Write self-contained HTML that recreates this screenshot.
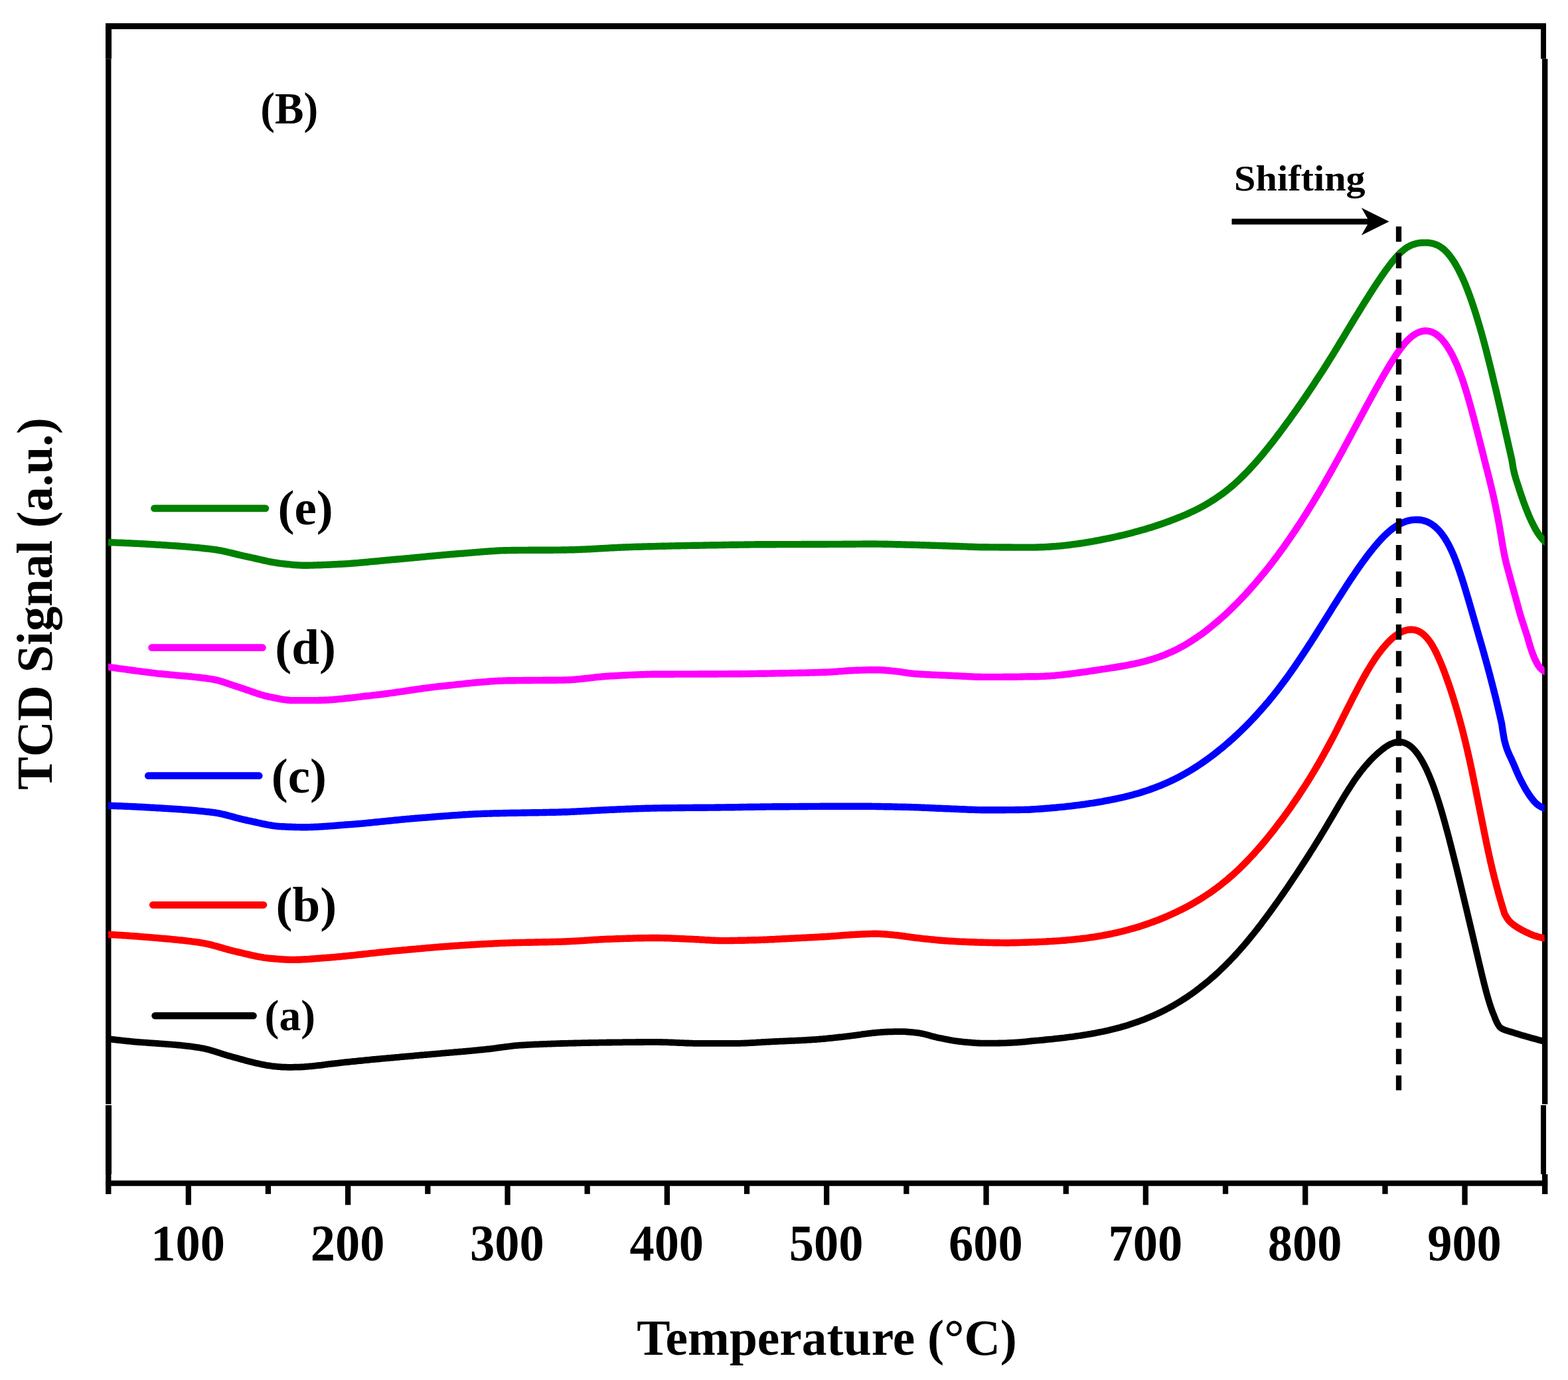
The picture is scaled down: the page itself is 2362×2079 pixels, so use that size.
<!DOCTYPE html>
<html lang="en"><head><meta charset="utf-8"><title>H2-TPR profiles (B)</title>
<style>
html,body{margin:0;padding:0;background:#fff;}
body{width:2362px;height:2079px;overflow:hidden;}
svg{display:block;}
text{font-family:"Liberation Serif","DejaVu Serif",serif;font-weight:bold;fill:#000;}
.c{fill:none;stroke-linejoin:round;stroke-linecap:square;}
.lg{fill:none;stroke-linecap:round;}
</style></head><body>
<svg width="2362" height="2079" viewBox="0 0 2362 2079" role="img" aria-label="TCD signal versus temperature, curves (a) to (e)">
<rect x="0" y="0" width="2362" height="2079" fill="#ffffff"/>
<rect x="159" y="35" width="2170" height="9" fill="#000"/>
<rect x="159.15" y="1778.45" width="2172" height="8.3" fill="#000"/>
<rect x="159" y="35" width="9" height="53.7" fill="#000"/>
<rect x="159.15" y="88.7" width="8.3" height="1575" fill="#000"/>
<rect x="159" y="1665" width="9" height="104" fill="#000"/>
<rect x="159.15" y="1769" width="8.3" height="30" fill="#000"/>
<rect x="2321" y="35" width="8" height="53.7" fill="#000"/>
<rect x="2323" y="88.7" width="8.4" height="1575" fill="#000"/>
<rect x="2321" y="1665" width="8" height="104" fill="#000"/>
<rect x="2323" y="1769" width="8.4" height="30" fill="#000"/>
<rect x="158" y="1663.7" width="11" height="1.3" fill="#fff"/>
<rect x="2320" y="1663.7" width="13" height="1.3" fill="#fff"/>
<rect x="279.7" y="1780" width="8.3" height="35.299999999999955" fill="#000"/>
<rect x="520.0" y="1780" width="8.3" height="35.299999999999955" fill="#000"/>
<rect x="760.4" y="1780" width="8.3" height="35.299999999999955" fill="#000"/>
<rect x="1000.7" y="1780" width="8.3" height="35.299999999999955" fill="#000"/>
<rect x="1241.0" y="1780" width="8.3" height="35.299999999999955" fill="#000"/>
<rect x="1481.4" y="1780" width="8.3" height="35.299999999999955" fill="#000"/>
<rect x="1721.7" y="1780" width="8.3" height="35.299999999999955" fill="#000"/>
<rect x="1962.1" y="1780" width="8.3" height="35.299999999999955" fill="#000"/>
<rect x="2202.4" y="1780" width="8.3" height="35.299999999999955" fill="#000"/>
<rect x="399.8" y="1780" width="8.3" height="18.799999999999955" fill="#000"/>
<rect x="640.2" y="1780" width="8.3" height="18.799999999999955" fill="#000"/>
<rect x="880.5" y="1780" width="8.3" height="18.799999999999955" fill="#000"/>
<rect x="1120.9" y="1780" width="8.3" height="18.799999999999955" fill="#000"/>
<rect x="1361.2" y="1780" width="8.3" height="18.799999999999955" fill="#000"/>
<rect x="1601.6" y="1780" width="8.3" height="18.799999999999955" fill="#000"/>
<rect x="1841.9" y="1780" width="8.3" height="18.799999999999955" fill="#000"/>
<rect x="2082.3" y="1780" width="8.3" height="18.799999999999955" fill="#000"/>
<clipPath id="plotclip"><rect x="163" y="0" width="2163.7" height="2079"/></clipPath>
<g clip-path="url(#plotclip)">
<path class="c" d="M163.0 1565.0L165.0 1565.3L167.0 1565.5L169.0 1565.8L171.0 1566.0L173.0 1566.3L175.0 1566.5L177.0 1566.8L179.0 1567.0L181.0 1567.2L183.0 1567.5L185.0 1567.7L187.0 1567.9L189.0 1568.1L191.0 1568.3L193.0 1568.5L195.0 1568.7L197.0 1568.9L199.0 1569.1L201.0 1569.3L203.0 1569.5L205.0 1569.6L207.0 1569.8L209.0 1570.0L211.0 1570.1L213.0 1570.3L215.0 1570.4L217.0 1570.6L219.0 1570.7L221.0 1570.8L223.0 1571.0L225.0 1571.1L227.0 1571.3L229.0 1571.4L231.0 1571.6L233.0 1571.7L235.0 1571.9L237.0 1572.0L239.0 1572.1L241.0 1572.3L243.0 1572.4L245.0 1572.6L247.0 1572.7L249.0 1572.8L251.0 1573.0L253.0 1573.1L255.0 1573.3L257.0 1573.4L259.0 1573.6L261.0 1573.8L263.0 1573.9L265.0 1574.1L267.0 1574.3L269.0 1574.5L271.0 1574.7L273.0 1574.9L275.0 1575.1L277.0 1575.3L279.0 1575.5L281.0 1575.8L283.0 1576.0L285.0 1576.2L287.0 1576.5L289.0 1576.7L291.0 1577.0L293.0 1577.3L295.0 1577.6L297.0 1577.9L299.0 1578.2L301.0 1578.5L303.0 1578.9L305.0 1579.2L307.0 1579.6L309.0 1580.1L311.0 1580.5L313.0 1581.0L315.0 1581.5L317.0 1582.1L319.0 1582.7L321.0 1583.3L323.0 1583.9L325.0 1584.5L327.0 1585.1L329.0 1585.8L331.0 1586.4L333.0 1587.1L335.0 1587.7L337.0 1588.4L339.0 1589.0L341.0 1589.6L343.0 1590.2L345.0 1590.8L347.0 1591.3L349.0 1591.9L351.0 1592.5L353.0 1593.0L355.0 1593.6L357.0 1594.1L359.0 1594.6L361.0 1595.2L363.0 1595.7L365.0 1596.3L367.0 1596.8L369.0 1597.4L371.0 1597.9L373.0 1598.4L375.0 1598.9L377.0 1599.4L379.0 1599.9L381.0 1600.5L383.0 1600.9L385.0 1601.4L387.0 1601.9L389.0 1602.3L391.0 1602.8L393.0 1603.2L394.9 1603.6L396.9 1604.0L398.9 1604.4L400.9 1604.8L402.9 1605.1L404.9 1605.4L406.9 1605.7L408.9 1606.0L410.9 1606.3L412.9 1606.5L414.9 1606.7L416.9 1606.9L418.9 1607.1L420.9 1607.2L422.9 1607.3L424.9 1607.5L426.9 1607.6L428.9 1607.7L430.9 1607.7L432.9 1607.8L434.9 1607.8L436.9 1607.8L438.9 1607.8L440.9 1607.8L442.9 1607.7L444.9 1607.7L446.9 1607.7L448.9 1607.6L450.9 1607.6L452.9 1607.5L454.9 1607.4L456.9 1607.3L458.9 1607.1L460.9 1606.9L462.9 1606.8L464.9 1606.6L466.9 1606.4L468.9 1606.3L470.9 1606.1L472.9 1605.9L474.9 1605.7L476.9 1605.4L478.9 1605.2L480.9 1605.0L482.9 1604.8L484.9 1604.5L486.9 1604.3L488.9 1604.0L490.9 1603.7L492.9 1603.5L494.9 1603.2L496.9 1603.0L498.9 1602.7L500.9 1602.5L502.9 1602.3L504.9 1602.0L506.9 1601.8L508.9 1601.6L510.9 1601.3L512.9 1601.1L514.9 1600.9L516.9 1600.7L518.9 1600.4L520.9 1600.2L522.9 1600.0L524.9 1599.8L526.9 1599.6L528.9 1599.4L530.9 1599.2L532.9 1599.0L534.9 1598.8L536.9 1598.6L538.9 1598.4L540.9 1598.2L542.9 1598.0L544.9 1597.8L546.9 1597.6L548.9 1597.4L550.9 1597.2L552.9 1597.0L554.9 1596.8L556.9 1596.6L558.9 1596.4L560.9 1596.2L562.9 1596.0L564.9 1595.9L566.9 1595.7L568.9 1595.5L570.9 1595.3L572.9 1595.1L574.9 1594.9L576.9 1594.7L578.9 1594.6L580.9 1594.4L582.9 1594.2L584.9 1594.0L586.9 1593.8L588.9 1593.7L590.9 1593.5L592.9 1593.3L594.9 1593.1L596.9 1592.9L598.9 1592.8L600.9 1592.6L602.9 1592.4L604.9 1592.2L606.9 1592.0L608.9 1591.9L610.9 1591.7L612.9 1591.5L614.9 1591.3L616.9 1591.1L618.9 1591.0L620.9 1590.8L622.9 1590.6L624.9 1590.4L626.9 1590.2L628.9 1590.1L630.9 1589.9L632.9 1589.7L634.9 1589.5L636.9 1589.3L638.9 1589.2L640.9 1589.0L642.9 1588.8L644.9 1588.6L646.9 1588.5L648.9 1588.3L650.9 1588.1L652.9 1587.9L654.9 1587.8L656.9 1587.6L658.9 1587.4L660.9 1587.3L662.9 1587.1L664.9 1586.9L666.9 1586.7L668.9 1586.6L670.9 1586.4L672.9 1586.2L674.9 1586.1L676.9 1585.9L678.9 1585.7L680.9 1585.6L682.9 1585.4L684.9 1585.2L686.9 1585.0L688.9 1584.9L690.9 1584.7L692.9 1584.5L694.9 1584.3L696.9 1584.2L698.9 1584.0L700.9 1583.8L702.9 1583.6L704.9 1583.4L706.9 1583.3L708.9 1583.1L710.9 1582.9L712.9 1582.7L714.9 1582.5L716.9 1582.3L718.9 1582.1L720.9 1581.9L722.9 1581.7L724.9 1581.5L726.9 1581.3L728.9 1581.1L730.9 1580.9L732.9 1580.7L734.9 1580.5L736.9 1580.3L738.9 1580.0L740.9 1579.8L742.9 1579.5L744.9 1579.3L746.9 1579.0L748.9 1578.7L750.9 1578.5L752.9 1578.2L754.9 1577.9L756.9 1577.6L758.9 1577.4L760.9 1577.1L762.9 1576.8L764.9 1576.6L766.9 1576.3L768.9 1576.1L770.9 1575.8L772.9 1575.6L774.9 1575.4L776.9 1575.2L778.9 1575.1L780.9 1574.9L782.9 1574.7L784.9 1574.6L786.9 1574.5L788.9 1574.4L790.9 1574.3L792.9 1574.1L794.9 1574.0L796.9 1573.9L798.9 1573.8L800.9 1573.7L802.9 1573.6L804.9 1573.5L806.9 1573.4L808.9 1573.3L810.9 1573.3L812.9 1573.2L814.9 1573.1L816.9 1573.0L818.9 1572.9L820.9 1572.8L822.9 1572.8L824.9 1572.7L826.9 1572.6L828.9 1572.6L830.9 1572.5L832.9 1572.4L834.9 1572.4L836.9 1572.3L838.9 1572.2L840.9 1572.2L842.9 1572.1L844.9 1572.0L846.9 1572.0L848.9 1571.9L850.9 1571.9L852.9 1571.8L854.9 1571.8L856.9 1571.7L858.8 1571.7L860.8 1571.6L862.8 1571.6L864.8 1571.5L866.8 1571.5L868.8 1571.4L870.8 1571.4L872.8 1571.3L874.8 1571.3L876.8 1571.2L878.8 1571.2L880.8 1571.1L882.8 1571.1L884.8 1571.1L886.8 1571.0L888.8 1571.0L890.8 1570.9L892.8 1570.9L894.8 1570.9L896.8 1570.8L898.8 1570.8L900.8 1570.8L902.8 1570.7L904.8 1570.7L906.8 1570.7L908.8 1570.6L910.8 1570.6L912.8 1570.6L914.8 1570.5L916.8 1570.5L918.8 1570.5L920.8 1570.5L922.8 1570.4L924.8 1570.4L926.8 1570.4L928.8 1570.4L930.8 1570.3L932.8 1570.3L934.8 1570.3L936.8 1570.3L938.8 1570.2L940.8 1570.2L942.8 1570.2L944.8 1570.2L946.8 1570.2L948.8 1570.1L950.8 1570.1L952.8 1570.1L954.8 1570.1L956.8 1570.1L958.8 1570.0L960.8 1570.0L962.8 1570.0L964.8 1570.0L966.8 1570.0L968.8 1570.0L970.8 1569.9L972.8 1569.9L974.8 1569.9L976.8 1569.9L978.8 1569.9L980.8 1569.9L982.8 1569.9L984.8 1569.9L986.8 1569.9L988.8 1569.9L990.8 1569.9L992.8 1569.9L994.8 1570.0L996.8 1570.0L998.8 1570.1L1000.8 1570.1L1002.8 1570.2L1004.8 1570.2L1006.8 1570.3L1008.8 1570.4L1010.8 1570.5L1012.8 1570.5L1014.8 1570.6L1016.8 1570.7L1018.8 1570.8L1020.8 1570.9L1022.8 1571.0L1024.8 1571.1L1026.8 1571.1L1028.8 1571.2L1030.8 1571.3L1032.8 1571.4L1034.8 1571.5L1036.8 1571.5L1038.8 1571.6L1040.8 1571.7L1042.8 1571.7L1044.8 1571.8L1046.8 1571.8L1048.8 1571.8L1050.8 1571.9L1052.8 1571.9L1054.8 1571.9L1056.8 1571.9L1058.8 1571.9L1060.8 1571.9L1062.8 1571.9L1064.8 1571.9L1066.8 1571.9L1068.8 1571.9L1070.8 1571.9L1072.8 1571.9L1074.8 1571.9L1076.8 1571.9L1078.8 1571.9L1080.8 1571.9L1082.8 1571.9L1084.8 1571.9L1086.8 1571.9L1088.8 1571.9L1090.8 1571.9L1092.8 1571.9L1094.8 1571.9L1096.8 1571.9L1098.8 1571.9L1100.8 1571.9L1102.8 1571.9L1104.8 1571.9L1106.8 1571.9L1108.8 1571.9L1110.8 1571.9L1112.8 1571.8L1114.8 1571.8L1116.8 1571.7L1118.8 1571.7L1120.8 1571.6L1122.8 1571.5L1124.8 1571.4L1126.8 1571.3L1128.8 1571.2L1130.8 1571.1L1132.8 1571.0L1134.8 1570.9L1136.8 1570.8L1138.8 1570.6L1140.8 1570.5L1142.8 1570.4L1144.8 1570.3L1146.8 1570.1L1148.8 1570.0L1150.8 1569.9L1152.8 1569.8L1154.8 1569.7L1156.8 1569.6L1158.8 1569.5L1160.8 1569.4L1162.8 1569.3L1164.8 1569.2L1166.8 1569.1L1168.8 1569.0L1170.8 1568.9L1172.8 1568.8L1174.8 1568.7L1176.8 1568.7L1178.8 1568.6L1180.8 1568.5L1182.8 1568.4L1184.8 1568.3L1186.8 1568.2L1188.8 1568.1L1190.8 1568.0L1192.8 1567.9L1194.8 1567.9L1196.8 1567.8L1198.8 1567.7L1200.8 1567.6L1202.8 1567.5L1204.8 1567.4L1206.8 1567.3L1208.8 1567.2L1210.8 1567.1L1212.8 1567.0L1214.8 1566.8L1216.8 1566.7L1218.8 1566.6L1220.8 1566.5L1222.8 1566.4L1224.8 1566.2L1226.8 1566.1L1228.8 1566.0L1230.8 1565.8L1232.8 1565.7L1234.8 1565.5L1236.8 1565.3L1238.8 1565.2L1240.8 1565.0L1242.8 1564.8L1244.8 1564.6L1246.8 1564.4L1248.8 1564.2L1250.8 1564.0L1252.8 1563.8L1254.8 1563.6L1256.8 1563.4L1258.8 1563.2L1260.8 1563.0L1262.8 1562.7L1264.8 1562.5L1266.8 1562.3L1268.8 1562.1L1270.8 1561.8L1272.8 1561.6L1274.8 1561.4L1276.8 1561.2L1278.8 1560.9L1280.8 1560.7L1282.8 1560.4L1284.8 1560.2L1286.8 1559.9L1288.8 1559.6L1290.8 1559.3L1292.8 1559.0L1294.8 1558.8L1296.8 1558.5L1298.8 1558.2L1300.8 1557.9L1302.8 1557.6L1304.8 1557.4L1306.8 1557.1L1308.8 1556.9L1310.8 1556.7L1312.8 1556.5L1314.8 1556.2L1316.8 1556.0L1318.8 1555.8L1320.8 1555.6L1322.7 1555.4L1324.7 1555.3L1326.7 1555.1L1328.7 1554.9L1330.7 1554.8L1332.7 1554.7L1334.7 1554.6L1336.7 1554.5L1338.7 1554.4L1340.7 1554.4L1342.7 1554.3L1344.7 1554.3L1346.7 1554.2L1348.7 1554.2L1350.7 1554.1L1352.7 1554.1L1354.7 1554.1L1356.7 1554.1L1358.7 1554.1L1360.7 1554.2L1362.7 1554.2L1364.7 1554.4L1366.7 1554.5L1368.7 1554.6L1370.7 1554.8L1372.7 1555.0L1374.7 1555.2L1376.7 1555.4L1378.7 1555.6L1380.7 1555.8L1382.7 1556.0L1384.7 1556.3L1386.7 1556.7L1388.7 1557.1L1390.7 1557.5L1392.7 1558.0L1394.7 1558.5L1396.7 1559.0L1398.7 1559.6L1400.7 1560.1L1402.7 1560.7L1404.7 1561.2L1406.7 1561.7L1408.7 1562.3L1410.7 1562.7L1412.7 1563.2L1414.7 1563.6L1416.7 1564.0L1418.7 1564.4L1420.7 1564.8L1422.7 1565.2L1424.7 1565.6L1426.7 1566.0L1428.7 1566.4L1430.7 1566.8L1432.7 1567.1L1434.7 1567.5L1436.7 1567.8L1438.7 1568.2L1440.7 1568.5L1442.7 1568.7L1444.7 1569.0L1446.7 1569.2L1448.7 1569.4L1450.7 1569.6L1452.7 1569.8L1454.7 1570.0L1456.7 1570.2L1458.7 1570.4L1460.7 1570.5L1462.7 1570.7L1464.7 1570.9L1466.7 1571.0L1468.7 1571.1L1470.7 1571.3L1472.7 1571.4L1474.7 1571.5L1476.7 1571.6L1478.7 1571.6L1480.7 1571.7L1482.7 1571.7L1484.7 1571.7L1486.7 1571.7L1488.7 1571.7L1490.7 1571.7L1492.7 1571.7L1494.7 1571.7L1496.7 1571.6L1498.7 1571.6L1500.7 1571.6L1502.7 1571.6L1504.7 1571.5L1506.7 1571.5L1508.7 1571.4L1510.7 1571.4L1512.7 1571.3L1514.7 1571.3L1516.7 1571.2L1518.7 1571.1L1520.7 1571.0L1522.7 1570.9L1524.7 1570.8L1526.7 1570.7L1528.7 1570.6L1530.7 1570.5L1532.7 1570.4L1534.7 1570.2L1536.7 1570.1L1538.7 1569.9L1540.7 1569.7L1542.7 1569.6L1544.7 1569.4L1546.7 1569.2L1548.7 1569.0L1550.7 1568.7L1552.7 1568.5L1555.7 1568.2L1558.7 1567.9L1561.7 1567.6L1564.7 1567.4L1567.7 1567.1L1570.7 1566.8L1573.7 1566.5L1576.7 1566.2L1579.7 1565.9L1582.7 1565.6L1585.7 1565.3L1588.7 1564.9L1591.7 1564.6L1594.7 1564.3L1597.7 1564.0L1600.7 1563.6L1603.6 1563.3L1606.6 1562.9L1609.6 1562.5L1612.6 1562.1L1615.6 1561.8L1618.6 1561.4L1621.6 1560.9L1624.6 1560.5L1627.6 1560.1L1630.6 1559.6L1633.6 1559.1L1636.6 1558.7L1639.6 1558.2L1642.6 1557.7L1645.6 1557.1L1648.6 1556.6L1651.6 1556.0L1654.6 1555.4L1657.6 1554.8L1660.6 1554.2L1663.6 1553.6L1666.6 1552.9L1669.6 1552.2L1672.6 1551.5L1675.6 1550.8L1678.6 1550.1L1681.6 1549.3L1684.6 1548.5L1687.6 1547.7L1690.6 1546.8L1693.6 1546.0L1696.6 1545.1L1699.6 1544.2L1702.5 1543.2L1705.5 1542.2L1708.5 1541.2L1711.5 1540.2L1714.5 1539.1L1717.5 1538.0L1720.5 1536.9L1723.5 1535.8L1726.5 1534.6L1729.5 1533.3L1732.5 1532.1L1735.5 1530.8L1738.5 1529.5L1741.5 1528.1L1744.5 1526.7L1747.5 1525.3L1750.5 1523.8L1753.5 1522.3L1756.5 1520.8L1759.5 1519.2L1762.5 1517.6L1765.5 1515.9L1768.5 1514.2L1771.5 1512.4L1774.5 1510.6L1777.5 1508.8L1780.5 1506.9L1783.5 1505.0L1786.5 1503.1L1789.5 1501.1L1792.5 1499.0L1795.5 1496.9L1798.5 1494.8L1801.5 1492.6L1804.4 1490.3L1807.4 1488.1L1810.4 1485.7L1813.4 1483.3L1816.4 1480.9L1819.4 1478.4L1822.4 1475.9L1825.4 1473.3L1828.4 1470.7L1831.4 1468.0L1834.4 1465.3L1837.4 1462.5L1840.4 1459.6L1843.4 1456.7L1846.4 1453.8L1849.4 1450.7L1852.4 1447.7L1855.4 1444.5L1858.4 1441.4L1861.4 1438.1L1864.4 1434.8L1867.4 1431.5L1870.4 1428.1L1873.4 1424.6L1876.4 1421.1L1879.4 1417.5L1882.4 1413.9L1885.4 1410.2L1888.4 1406.5L1891.4 1402.7L1894.4 1398.9L1897.4 1395.1L1900.4 1391.2L1903.3 1387.2L1906.3 1383.2L1909.3 1379.2L1912.3 1375.1L1915.3 1371.0L1918.3 1366.9L1921.3 1362.7L1924.3 1358.5L1927.3 1354.2L1930.3 1349.9L1933.3 1345.6L1936.3 1341.3L1939.3 1336.9L1942.3 1332.5L1945.3 1328.0L1948.3 1323.6L1951.3 1319.1L1954.3 1314.6L1957.3 1310.0L1960.3 1305.4L1963.3 1300.8L1966.3 1296.2L1969.3 1291.5L1972.3 1286.8L1975.3 1282.0L1978.3 1277.3L1981.3 1272.5L1984.3 1267.6L1987.3 1262.8L1990.3 1257.9L1993.3 1253.0L1996.3 1248.0L1999.3 1243.0L2002.2 1238.0L2005.2 1233.0L2008.2 1227.9L2011.2 1222.8L2014.2 1217.7L2017.2 1212.6L2020.2 1207.6L2023.2 1202.6L2026.2 1197.6L2029.2 1192.7L2032.2 1188.0L2035.2 1183.3L2038.2 1178.7L2041.2 1174.3L2044.2 1170.1L2047.2 1166.0L2050.2 1162.0L2053.2 1158.3L2056.2 1154.7L2059.2 1151.2L2062.2 1147.9L2065.2 1144.7L2068.2 1141.6L2071.2 1138.7L2074.2 1135.9L2077.2 1133.2L2080.2 1130.7L2083.2 1128.3L2086.2 1126.0L2089.2 1124.0L2092.2 1122.2L2095.2 1120.7L2098.2 1119.5L2101.2 1118.5L2104.1 1117.9L2107.1 1117.7L2110.1 1117.8L2113.1 1118.3L2116.1 1119.2L2119.1 1120.6L2122.1 1122.3L2125.1 1124.5L2128.1 1127.2L2131.1 1130.4L2134.1 1134.0L2137.1 1138.1L2140.1 1142.8L2143.1 1147.9L2146.1 1153.6L2149.1 1159.7L2152.1 1166.4L2155.1 1173.6L2158.1 1181.3L2161.1 1189.5L2164.1 1198.3L2167.1 1207.5L2170.1 1217.3L2173.1 1227.5L2176.1 1238.1L2179.1 1249.1L2182.1 1260.3L2185.1 1271.9L2188.1 1283.7L2191.1 1295.7L2194.1 1307.8L2197.1 1320.0L2200.1 1332.3L2203.0 1344.7L2206.0 1357.2L2209.0 1369.7L2212.0 1382.3L2215.0 1395.0L2218.0 1407.7L2221.0 1420.4L2224.0 1433.2L2227.0 1446.0L2230.0 1458.7L2233.0 1471.2L2236.0 1483.2L2239.0 1494.7L2242.0 1505.3L2245.0 1515.1L2248.0 1523.7L2251.0 1531.0L2253.0 1536.2L2255.0 1540.6L2257.0 1544.1L2259.0 1547.1L2261.0 1548.9L2263.0 1550.0L2264.9 1550.9L2266.9 1551.7L2268.9 1552.4L2270.9 1553.0L2272.9 1553.6L2274.9 1554.2L2276.9 1554.8L2278.9 1555.4L2280.9 1556.0L2282.9 1556.7L2284.9 1557.3L2286.9 1557.9L2288.8 1558.5L2290.8 1559.1L2292.8 1559.7L2294.8 1560.2L2296.8 1560.8L2298.8 1561.4L2300.8 1562.0L2302.8 1562.5L2304.8 1563.1L2306.8 1563.7L2308.8 1564.2L2310.8 1564.8L2312.8 1565.3L2314.7 1565.8L2316.7 1566.4L2318.7 1566.9L2320.7 1567.4L2322.7 1568.0L2324.7 1568.5L2326.7 1569.0" stroke="#000000" stroke-width="9.8"/>
<path class="c" d="M163.0 1407.9L165.0 1408.0L167.0 1408.1L169.0 1408.2L171.0 1408.3L173.0 1408.4L175.0 1408.5L177.0 1408.7L179.0 1408.8L181.0 1408.9L183.0 1409.0L185.0 1409.2L187.0 1409.3L189.0 1409.4L191.0 1409.5L193.0 1409.7L195.0 1409.8L197.0 1410.0L199.0 1410.1L201.0 1410.2L203.0 1410.4L205.0 1410.5L207.0 1410.7L209.0 1410.8L211.0 1411.0L213.0 1411.1L215.0 1411.3L217.0 1411.5L219.0 1411.6L221.0 1411.8L223.0 1411.9L225.0 1412.1L227.0 1412.3L229.0 1412.4L231.0 1412.6L233.0 1412.8L235.0 1412.9L237.0 1413.1L239.0 1413.3L241.0 1413.5L243.0 1413.6L245.0 1413.8L247.0 1414.0L249.0 1414.2L251.0 1414.3L253.0 1414.5L255.0 1414.7L257.0 1414.9L259.0 1415.1L261.0 1415.3L263.0 1415.5L265.0 1415.7L267.0 1415.9L269.0 1416.1L271.0 1416.3L273.0 1416.5L275.0 1416.7L277.0 1416.9L279.0 1417.1L281.0 1417.4L283.0 1417.6L285.0 1417.8L287.0 1418.1L289.0 1418.4L291.0 1418.6L293.0 1418.9L295.0 1419.2L297.0 1419.4L298.9 1419.7L300.9 1420.0L302.9 1420.3L304.9 1420.6L306.9 1421.0L308.9 1421.4L310.9 1421.8L312.9 1422.2L314.9 1422.7L316.9 1423.1L318.9 1423.6L320.9 1424.2L322.9 1424.7L324.9 1425.2L326.9 1425.8L328.9 1426.4L330.9 1426.9L332.9 1427.5L334.9 1428.1L336.9 1428.7L338.9 1429.3L340.9 1429.8L342.9 1430.4L344.9 1430.9L346.9 1431.5L348.9 1432.0L350.9 1432.5L352.9 1433.0L354.9 1433.5L356.9 1433.9L358.9 1434.4L360.9 1434.8L362.9 1435.3L364.9 1435.8L366.9 1436.3L368.9 1436.7L370.9 1437.2L372.9 1437.7L374.9 1438.1L376.9 1438.6L378.9 1439.1L380.9 1439.5L382.9 1439.9L384.9 1440.4L386.9 1440.8L388.9 1441.2L390.9 1441.5L392.9 1441.9L394.9 1442.2L396.9 1442.6L398.9 1442.9L400.9 1443.1L402.9 1443.4L404.9 1443.6L406.9 1443.8L408.9 1444.0L410.9 1444.2L412.9 1444.3L414.9 1444.5L416.9 1444.7L418.9 1444.9L420.9 1445.0L422.9 1445.2L424.9 1445.3L426.9 1445.4L428.9 1445.5L430.9 1445.6L432.9 1445.7L434.9 1445.8L436.9 1445.9L438.9 1445.9L440.9 1445.9L442.9 1445.9L444.9 1445.9L446.9 1445.8L448.9 1445.8L450.9 1445.7L452.9 1445.6L454.9 1445.5L456.9 1445.4L458.9 1445.3L460.9 1445.2L462.9 1445.1L464.9 1445.0L466.9 1444.8L468.9 1444.7L470.9 1444.5L472.9 1444.4L474.9 1444.2L476.9 1444.0L478.9 1443.9L480.9 1443.7L482.9 1443.6L484.9 1443.4L486.9 1443.2L488.9 1443.1L490.9 1442.9L492.9 1442.8L494.9 1442.6L496.9 1442.5L498.9 1442.3L500.9 1442.1L502.9 1442.0L504.9 1441.8L506.9 1441.6L508.9 1441.4L510.9 1441.3L512.9 1441.1L514.9 1440.9L516.9 1440.7L518.9 1440.5L520.9 1440.3L522.9 1440.1L524.9 1439.9L526.9 1439.7L528.9 1439.5L530.9 1439.3L532.9 1439.1L534.9 1438.8L536.9 1438.6L538.9 1438.4L540.9 1438.2L542.9 1438.0L544.9 1437.8L546.9 1437.5L548.9 1437.3L550.9 1437.1L552.9 1436.9L554.9 1436.7L556.9 1436.4L558.9 1436.2L560.9 1436.0L562.9 1435.8L564.9 1435.6L566.9 1435.4L568.9 1435.1L570.8 1434.9L572.8 1434.7L574.8 1434.5L576.8 1434.3L578.8 1434.1L580.8 1433.9L582.8 1433.7L584.8 1433.5L586.8 1433.3L588.8 1433.1L590.8 1432.9L592.8 1432.7L594.8 1432.5L596.8 1432.4L598.8 1432.2L600.8 1432.0L602.8 1431.8L604.8 1431.6L606.8 1431.4L608.8 1431.3L610.8 1431.1L612.8 1430.9L614.8 1430.7L616.8 1430.5L618.8 1430.3L620.8 1430.2L622.8 1430.0L624.8 1429.8L626.8 1429.6L628.8 1429.4L630.8 1429.3L632.8 1429.1L634.8 1428.9L636.8 1428.7L638.8 1428.6L640.8 1428.4L642.8 1428.2L644.8 1428.0L646.8 1427.9L648.8 1427.7L650.8 1427.5L652.8 1427.4L654.8 1427.2L656.8 1427.0L658.8 1426.9L660.8 1426.7L662.8 1426.5L664.8 1426.4L666.8 1426.2L668.8 1426.1L670.8 1425.9L672.8 1425.8L674.8 1425.6L676.8 1425.5L678.8 1425.3L680.8 1425.2L682.8 1425.0L684.8 1424.9L686.8 1424.7L688.8 1424.6L690.8 1424.5L692.8 1424.3L694.8 1424.2L696.8 1424.1L698.8 1424.0L700.8 1423.8L702.8 1423.7L704.8 1423.6L706.8 1423.5L708.8 1423.3L710.8 1423.2L712.8 1423.1L714.8 1423.0L716.8 1422.9L718.8 1422.7L720.8 1422.6L722.8 1422.5L724.8 1422.4L726.8 1422.3L728.8 1422.2L730.8 1422.1L732.8 1422.0L734.8 1421.9L736.8 1421.8L738.8 1421.7L740.8 1421.6L742.8 1421.5L744.8 1421.4L746.8 1421.3L748.8 1421.2L750.8 1421.1L752.8 1421.0L754.8 1420.9L756.8 1420.9L758.8 1420.8L760.8 1420.7L762.8 1420.6L764.8 1420.6L766.8 1420.5L768.8 1420.4L770.8 1420.4L772.8 1420.3L774.8 1420.2L776.8 1420.2L778.8 1420.1L780.8 1420.1L782.8 1420.0L784.8 1420.0L786.8 1419.9L788.8 1419.9L790.8 1419.9L792.8 1419.8L794.8 1419.8L796.8 1419.7L798.8 1419.7L800.8 1419.7L802.8 1419.6L804.8 1419.6L806.8 1419.5L808.8 1419.5L810.8 1419.5L812.8 1419.4L814.8 1419.4L816.8 1419.3L818.8 1419.3L820.8 1419.3L822.8 1419.2L824.8 1419.2L826.8 1419.1L828.8 1419.1L830.8 1419.0L832.8 1419.0L834.8 1418.9L836.8 1418.9L838.8 1418.8L840.8 1418.8L842.7 1418.7L844.7 1418.7L846.7 1418.6L848.7 1418.5L850.7 1418.5L852.7 1418.4L854.7 1418.3L856.7 1418.2L858.7 1418.1L860.7 1418.0L862.7 1417.9L864.7 1417.8L866.7 1417.7L868.7 1417.6L870.7 1417.5L872.7 1417.4L874.7 1417.2L876.7 1417.1L878.7 1417.0L880.7 1416.8L882.7 1416.7L884.7 1416.6L886.7 1416.4L888.7 1416.3L890.7 1416.2L892.7 1416.0L894.7 1415.9L896.7 1415.8L898.7 1415.7L900.7 1415.6L902.7 1415.4L904.7 1415.3L906.7 1415.2L908.7 1415.1L910.7 1415.0L912.7 1414.9L914.7 1414.8L916.7 1414.8L918.7 1414.7L920.7 1414.6L922.7 1414.6L924.7 1414.5L926.7 1414.4L928.7 1414.3L930.7 1414.3L932.7 1414.2L934.7 1414.1L936.7 1414.1L938.7 1414.0L940.7 1413.9L942.7 1413.9L944.7 1413.8L946.7 1413.7L948.7 1413.7L950.7 1413.6L952.7 1413.6L954.7 1413.5L956.7 1413.4L958.7 1413.4L960.7 1413.3L962.7 1413.3L964.7 1413.3L966.7 1413.2L968.7 1413.2L970.7 1413.1L972.7 1413.1L974.7 1413.1L976.7 1413.1L978.7 1413.0L980.7 1413.0L982.7 1413.0L984.7 1413.0L986.7 1413.0L988.7 1413.0L990.7 1413.0L992.7 1413.0L994.7 1413.1L996.7 1413.1L998.7 1413.1L1000.7 1413.2L1002.7 1413.2L1004.7 1413.3L1006.7 1413.4L1008.7 1413.4L1010.7 1413.5L1012.7 1413.6L1014.7 1413.7L1016.7 1413.8L1018.7 1413.9L1020.7 1413.9L1022.7 1414.0L1024.7 1414.1L1026.7 1414.2L1028.7 1414.3L1030.7 1414.4L1032.7 1414.5L1034.7 1414.6L1036.7 1414.6L1038.7 1414.7L1040.7 1414.8L1042.7 1414.9L1044.7 1415.0L1046.7 1415.1L1048.7 1415.2L1050.7 1415.3L1052.7 1415.4L1054.7 1415.6L1056.7 1415.7L1058.7 1415.8L1060.7 1415.9L1062.7 1416.1L1064.7 1416.2L1066.7 1416.3L1068.7 1416.4L1070.7 1416.5L1072.7 1416.6L1074.7 1416.7L1076.7 1416.8L1078.7 1416.9L1080.7 1417.0L1082.7 1417.0L1084.7 1417.1L1086.7 1417.1L1088.7 1417.1L1090.7 1417.1L1092.7 1417.1L1094.7 1417.1L1096.7 1417.1L1098.7 1417.1L1100.7 1417.0L1102.7 1417.0L1104.7 1417.0L1106.7 1416.9L1108.7 1416.9L1110.7 1416.9L1112.6 1416.8L1114.6 1416.8L1116.6 1416.7L1118.6 1416.7L1120.6 1416.7L1122.6 1416.6L1124.6 1416.6L1126.6 1416.5L1128.6 1416.4L1130.6 1416.4L1132.6 1416.3L1134.6 1416.3L1136.6 1416.2L1138.6 1416.2L1140.6 1416.1L1142.6 1416.1L1144.6 1416.0L1146.6 1415.9L1148.6 1415.9L1150.6 1415.8L1152.6 1415.7L1154.6 1415.6L1156.6 1415.5L1158.6 1415.4L1160.6 1415.3L1162.6 1415.2L1164.6 1415.2L1166.6 1415.1L1168.6 1414.9L1170.6 1414.8L1172.6 1414.7L1174.6 1414.6L1176.6 1414.5L1178.6 1414.4L1180.6 1414.3L1182.6 1414.2L1184.6 1414.1L1186.6 1414.0L1188.6 1413.9L1190.6 1413.8L1192.6 1413.7L1194.6 1413.6L1196.6 1413.5L1198.6 1413.4L1200.6 1413.3L1202.6 1413.2L1204.6 1413.1L1206.6 1413.0L1208.6 1412.9L1210.6 1412.8L1212.6 1412.7L1214.6 1412.6L1216.6 1412.5L1218.6 1412.4L1220.6 1412.3L1222.6 1412.2L1224.6 1412.1L1226.6 1412.0L1228.6 1411.9L1230.6 1411.8L1232.6 1411.6L1234.6 1411.5L1236.6 1411.4L1238.6 1411.3L1240.6 1411.2L1242.6 1411.1L1244.6 1411.0L1246.6 1410.8L1248.6 1410.7L1250.6 1410.6L1252.6 1410.4L1254.6 1410.3L1256.6 1410.1L1258.6 1410.0L1260.6 1409.8L1262.6 1409.6L1264.6 1409.5L1266.6 1409.3L1268.6 1409.2L1270.6 1409.0L1272.6 1408.9L1274.6 1408.7L1276.6 1408.6L1278.6 1408.5L1280.6 1408.3L1282.6 1408.2L1284.6 1408.1L1286.6 1408.0L1288.6 1407.9L1290.6 1407.8L1292.6 1407.7L1294.6 1407.6L1296.6 1407.5L1298.6 1407.4L1300.6 1407.3L1302.6 1407.2L1304.6 1407.1L1306.6 1407.1L1308.6 1407.0L1310.6 1406.9L1312.6 1406.9L1314.6 1406.8L1316.6 1406.8L1318.6 1406.8L1320.6 1406.8L1322.6 1406.8L1324.6 1406.9L1326.6 1407.0L1328.6 1407.1L1330.6 1407.2L1332.6 1407.4L1334.6 1407.5L1336.6 1407.7L1338.6 1407.9L1340.6 1408.1L1342.6 1408.2L1344.6 1408.4L1346.6 1408.6L1348.6 1408.8L1350.6 1409.0L1352.6 1409.2L1354.6 1409.5L1356.6 1409.7L1358.6 1410.0L1360.6 1410.3L1362.6 1410.5L1364.6 1410.8L1366.6 1411.1L1368.6 1411.4L1370.6 1411.7L1372.6 1412.0L1374.6 1412.2L1376.6 1412.5L1378.6 1412.7L1380.6 1413.0L1382.6 1413.2L1384.5 1413.4L1386.5 1413.6L1388.5 1413.8L1390.5 1414.1L1392.5 1414.3L1394.5 1414.5L1396.5 1414.7L1398.5 1414.9L1400.5 1415.1L1402.5 1415.3L1404.5 1415.5L1406.5 1415.7L1408.5 1415.9L1410.5 1416.1L1412.5 1416.3L1414.5 1416.5L1416.5 1416.7L1418.5 1416.8L1420.5 1417.0L1422.5 1417.2L1424.5 1417.3L1426.5 1417.4L1428.5 1417.6L1430.5 1417.7L1432.5 1417.8L1434.5 1417.9L1436.5 1418.0L1438.5 1418.1L1440.5 1418.3L1442.5 1418.4L1444.5 1418.5L1446.5 1418.6L1448.5 1418.6L1450.5 1418.7L1452.5 1418.8L1454.5 1418.9L1456.5 1419.0L1458.5 1419.1L1460.5 1419.2L1462.5 1419.2L1464.5 1419.3L1466.5 1419.4L1468.5 1419.5L1470.5 1419.5L1472.5 1419.6L1474.5 1419.7L1476.5 1419.7L1478.5 1419.8L1480.5 1419.8L1482.5 1419.9L1484.5 1419.9L1486.5 1420.0L1488.5 1420.0L1490.5 1420.1L1492.5 1420.1L1494.5 1420.1L1496.5 1420.2L1498.5 1420.2L1500.5 1420.3L1502.5 1420.3L1504.5 1420.3L1506.5 1420.4L1508.5 1420.4L1510.5 1420.4L1512.5 1420.4L1514.5 1420.5L1516.5 1420.5L1518.5 1420.5L1521.5 1420.4L1524.5 1420.3L1527.5 1420.3L1530.5 1420.2L1533.5 1420.1L1536.5 1420.0L1539.5 1419.9L1542.5 1419.8L1545.5 1419.7L1548.5 1419.6L1551.5 1419.5L1554.5 1419.4L1557.6 1419.3L1560.6 1419.2L1563.6 1419.0L1566.6 1418.9L1569.6 1418.8L1572.6 1418.6L1575.6 1418.5L1578.6 1418.3L1581.6 1418.1L1584.6 1418.0L1587.6 1417.8L1590.6 1417.6L1593.6 1417.4L1596.6 1417.2L1599.6 1416.9L1602.6 1416.7L1605.6 1416.5L1608.6 1416.2L1611.6 1415.9L1614.6 1415.6L1617.6 1415.3L1620.6 1415.0L1623.6 1414.7L1626.6 1414.4L1629.6 1414.0L1632.7 1413.6L1635.7 1413.3L1638.7 1412.9L1641.7 1412.4L1644.7 1412.0L1647.7 1411.6L1650.7 1411.1L1653.7 1410.6L1656.7 1410.1L1659.7 1409.6L1662.7 1409.0L1665.7 1408.5L1668.7 1407.9L1671.7 1407.3L1674.7 1406.7L1677.7 1406.0L1680.7 1405.4L1683.7 1404.7L1686.7 1404.0L1689.7 1403.3L1692.7 1402.5L1695.7 1401.7L1698.7 1401.0L1701.7 1400.1L1704.7 1399.3L1707.8 1398.4L1710.8 1397.6L1713.8 1396.7L1716.8 1395.7L1719.8 1394.8L1722.8 1393.8L1725.8 1392.8L1728.8 1391.8L1731.8 1390.7L1734.8 1389.6L1737.8 1388.5L1740.8 1387.4L1743.8 1386.3L1746.8 1385.1L1749.8 1383.9L1752.8 1382.6L1755.8 1381.4L1758.8 1380.1L1761.8 1378.8L1764.8 1377.4L1767.8 1376.0L1770.8 1374.6L1773.8 1373.2L1776.8 1371.7L1779.8 1370.3L1782.9 1368.7L1785.9 1367.2L1788.9 1365.6L1791.9 1363.9L1794.9 1362.3L1797.9 1360.6L1800.9 1358.8L1803.9 1357.1L1806.9 1355.2L1809.9 1353.4L1812.9 1351.5L1815.9 1349.5L1818.9 1347.5L1821.9 1345.5L1824.9 1343.4L1827.9 1341.3L1830.9 1339.1L1833.9 1336.9L1836.9 1334.6L1839.9 1332.2L1842.9 1329.8L1845.9 1327.4L1848.9 1324.9L1851.9 1322.3L1854.9 1319.7L1858.0 1317.1L1861.0 1314.3L1864.0 1311.5L1867.0 1308.7L1870.0 1305.8L1873.0 1302.8L1876.0 1299.8L1879.0 1296.7L1882.0 1293.5L1885.0 1290.3L1888.0 1287.1L1891.0 1283.8L1894.0 1280.4L1897.0 1277.0L1900.0 1273.5L1903.0 1270.0L1906.0 1266.4L1909.0 1262.7L1912.0 1259.0L1915.0 1255.3L1918.0 1251.5L1921.0 1247.6L1924.0 1243.7L1927.0 1239.7L1930.1 1235.7L1933.1 1231.7L1936.1 1227.5L1939.1 1223.4L1942.1 1219.2L1945.1 1214.9L1948.1 1210.6L1951.1 1206.2L1954.1 1201.8L1957.1 1197.3L1960.1 1192.7L1963.1 1188.1L1966.1 1183.5L1969.1 1178.7L1972.1 1173.9L1975.1 1169.1L1978.1 1164.1L1981.1 1159.1L1984.1 1154.0L1987.1 1148.8L1990.1 1143.6L1993.1 1138.3L1996.1 1132.8L1999.1 1127.4L2002.1 1121.8L2005.2 1116.1L2008.2 1110.4L2011.2 1104.5L2014.2 1098.7L2017.2 1092.7L2020.2 1086.7L2023.2 1080.7L2026.2 1074.7L2029.2 1068.7L2032.2 1062.8L2035.2 1056.8L2038.2 1050.9L2041.2 1045.1L2044.2 1039.3L2047.2 1033.6L2050.2 1028.0L2053.2 1022.5L2056.2 1017.1L2059.2 1011.9L2062.2 1006.8L2065.2 1001.9L2068.2 997.2L2071.2 992.6L2074.2 988.3L2077.2 984.1L2080.3 980.1L2083.3 976.3L2086.3 972.8L2089.3 969.4L2092.3 966.3L2095.3 963.4L2098.3 960.7L2101.3 958.3L2104.3 956.1L2107.3 954.2L2110.3 952.5L2113.3 951.1L2116.3 950.0L2119.3 949.2L2122.3 948.7L2125.3 948.5L2128.3 948.6L2131.3 949.0L2134.3 949.9L2137.3 951.1L2140.3 952.8L2143.3 955.0L2146.3 957.6L2149.3 960.8L2152.3 964.5L2155.4 968.8L2158.4 973.7L2161.4 979.2L2164.4 985.2L2167.4 991.7L2170.4 998.7L2173.4 1006.1L2176.4 1014.0L2179.4 1022.2L2182.4 1030.8L2185.4 1039.7L2188.4 1049.0L2191.4 1058.7L2194.4 1068.7L2197.4 1079.2L2200.4 1090.1L2203.4 1101.5L2206.4 1113.4L2209.4 1125.9L2212.4 1139.0L2215.4 1152.7L2218.4 1167.0L2221.4 1181.7L2224.4 1196.6L2227.4 1211.8L2230.5 1227.0L2233.5 1242.1L2236.5 1257.0L2239.5 1271.5L2242.5 1285.5L2245.5 1299.0L2248.5 1311.7L2251.5 1323.8L2254.5 1335.3L2257.5 1346.4L2260.5 1356.9L2263.5 1367.0L2266.5 1376.7L2268.5 1380.3L2270.5 1383.6L2272.5 1386.3L2274.5 1388.5L2276.5 1390.4L2278.5 1392.1L2280.5 1393.6L2282.6 1395.0L2284.6 1396.3L2286.6 1397.6L2288.6 1398.9L2290.6 1400.0L2292.6 1401.1L2294.6 1402.2L2296.6 1403.2L2298.6 1404.2L2300.6 1405.1L2302.6 1406.0L2304.6 1406.9L2306.6 1407.8L2308.6 1408.6L2310.6 1409.3L2312.7 1410.0L2314.7 1410.6L2316.7 1411.2L2318.7 1411.7L2320.7 1412.2L2322.7 1412.7L2324.7 1413.1L2326.7 1413.4" stroke="#ff0000" stroke-width="10.4"/>
<path class="c" d="M163.0 1213.7L165.0 1213.8L167.0 1213.8L169.0 1213.9L171.0 1214.0L173.0 1214.0L175.0 1214.1L177.0 1214.2L179.0 1214.3L181.0 1214.3L183.0 1214.4L185.0 1214.5L187.0 1214.6L189.0 1214.7L191.0 1214.8L193.0 1214.9L195.0 1214.9L197.0 1215.0L199.0 1215.1L201.0 1215.2L203.0 1215.3L205.0 1215.4L207.0 1215.5L209.0 1215.6L211.0 1215.7L213.0 1215.8L215.0 1215.9L217.0 1216.0L219.0 1216.2L221.0 1216.3L223.0 1216.4L225.0 1216.5L227.0 1216.6L229.0 1216.7L231.0 1216.8L232.9 1216.9L234.9 1217.1L236.9 1217.2L238.9 1217.3L240.9 1217.4L242.9 1217.5L244.9 1217.7L246.9 1217.8L248.9 1217.9L250.9 1218.0L252.9 1218.1L254.9 1218.3L256.9 1218.4L258.9 1218.5L260.9 1218.6L262.9 1218.8L264.9 1218.9L266.9 1219.0L268.9 1219.2L270.9 1219.3L272.9 1219.4L274.9 1219.6L276.9 1219.7L278.9 1219.9L280.9 1220.0L282.9 1220.2L284.9 1220.3L286.9 1220.5L288.9 1220.7L290.9 1220.8L292.9 1221.0L294.9 1221.2L296.9 1221.4L298.9 1221.6L300.9 1221.8L302.9 1222.0L304.9 1222.2L306.9 1222.4L308.9 1222.6L310.9 1222.8L312.9 1223.0L314.9 1223.2L316.9 1223.5L318.9 1223.7L320.9 1224.0L322.9 1224.2L324.9 1224.5L326.9 1224.9L328.9 1225.2L330.9 1225.6L332.9 1226.0L334.9 1226.5L336.9 1226.9L338.9 1227.4L340.9 1227.9L342.9 1228.4L344.9 1229.0L346.9 1229.5L348.9 1230.0L350.9 1230.6L352.9 1231.1L354.9 1231.7L356.9 1232.2L358.9 1232.7L360.9 1233.2L362.9 1233.8L364.9 1234.3L366.9 1234.7L368.9 1235.2L370.9 1235.6L372.8 1236.1L374.8 1236.5L376.8 1236.9L378.8 1237.3L380.8 1237.8L382.8 1238.2L384.8 1238.6L386.8 1239.1L388.8 1239.5L390.8 1240.0L392.8 1240.4L394.8 1240.9L396.8 1241.3L398.8 1241.7L400.8 1242.1L402.8 1242.5L404.8 1242.9L406.8 1243.2L408.8 1243.5L410.8 1243.9L412.8 1244.1L414.8 1244.4L416.8 1244.6L418.8 1244.8L420.8 1245.0L422.8 1245.1L424.8 1245.2L426.8 1245.3L428.8 1245.4L430.8 1245.5L432.8 1245.6L434.8 1245.7L436.8 1245.8L438.8 1245.8L440.8 1245.9L442.8 1246.0L444.8 1246.0L446.8 1246.1L448.8 1246.1L450.8 1246.1L452.8 1246.2L454.8 1246.2L456.8 1246.2L458.8 1246.2L460.8 1246.2L462.8 1246.2L464.8 1246.1L466.8 1246.1L468.8 1246.0L470.8 1246.0L472.8 1245.9L474.8 1245.8L476.8 1245.7L478.8 1245.6L480.8 1245.5L482.8 1245.4L484.8 1245.3L486.8 1245.2L488.8 1245.0L490.8 1244.9L492.8 1244.7L494.8 1244.6L496.8 1244.4L498.8 1244.3L500.8 1244.1L502.8 1244.0L504.8 1243.8L506.8 1243.7L508.8 1243.5L510.7 1243.3L512.7 1243.2L514.7 1243.0L516.7 1242.9L518.7 1242.7L520.7 1242.5L522.7 1242.4L524.7 1242.2L526.7 1242.1L528.7 1242.0L530.7 1241.8L532.7 1241.6L534.7 1241.5L536.7 1241.3L538.7 1241.2L540.7 1241.0L542.7 1240.8L544.7 1240.6L546.7 1240.5L548.7 1240.3L550.7 1240.1L552.7 1239.9L554.7 1239.7L556.7 1239.5L558.7 1239.3L560.7 1239.1L562.7 1238.9L564.7 1238.7L566.7 1238.5L568.7 1238.3L570.7 1238.1L572.7 1237.9L574.7 1237.7L576.7 1237.5L578.7 1237.3L580.7 1237.1L582.7 1236.9L584.7 1236.7L586.7 1236.5L588.7 1236.3L590.7 1236.1L592.7 1235.9L594.7 1235.7L596.7 1235.5L598.7 1235.3L600.7 1235.1L602.7 1234.9L604.7 1234.7L606.7 1234.5L608.7 1234.3L610.7 1234.1L612.7 1233.9L614.7 1233.8L616.7 1233.6L618.7 1233.4L620.7 1233.2L622.7 1233.1L624.7 1232.9L626.7 1232.7L628.7 1232.6L630.7 1232.4L632.7 1232.3L634.7 1232.1L636.7 1231.9L638.7 1231.8L640.7 1231.6L642.7 1231.5L644.7 1231.3L646.7 1231.1L648.6 1231.0L650.6 1230.8L652.6 1230.7L654.6 1230.5L656.6 1230.4L658.6 1230.2L660.6 1230.0L662.6 1229.9L664.6 1229.7L666.6 1229.6L668.6 1229.4L670.6 1229.3L672.6 1229.1L674.6 1229.0L676.6 1228.8L678.6 1228.7L680.6 1228.5L682.6 1228.4L684.6 1228.2L686.6 1228.1L688.6 1228.0L690.6 1227.8L692.6 1227.7L694.6 1227.6L696.6 1227.4L698.6 1227.3L700.6 1227.2L702.6 1227.1L704.6 1227.0L706.6 1226.8L708.6 1226.7L710.6 1226.6L712.6 1226.5L714.6 1226.4L716.6 1226.3L718.6 1226.2L720.6 1226.1L722.6 1226.1L724.6 1226.0L726.6 1225.9L728.6 1225.8L730.6 1225.8L732.6 1225.7L734.6 1225.6L736.6 1225.6L738.6 1225.5L740.6 1225.5L742.6 1225.4L744.6 1225.3L746.6 1225.3L748.6 1225.2L750.6 1225.2L752.6 1225.2L754.6 1225.1L756.6 1225.1L758.6 1225.0L760.6 1225.0L762.6 1225.0L764.6 1224.9L766.6 1224.9L768.6 1224.8L770.6 1224.8L772.6 1224.8L774.6 1224.7L776.6 1224.7L778.6 1224.7L780.6 1224.6L782.6 1224.6L784.6 1224.6L786.6 1224.5L788.5 1224.5L790.5 1224.5L792.5 1224.5L794.5 1224.4L796.5 1224.4L798.5 1224.4L800.5 1224.3L802.5 1224.3L804.5 1224.3L806.5 1224.2L808.5 1224.2L810.5 1224.2L812.5 1224.1L814.5 1224.1L816.5 1224.1L818.5 1224.0L820.5 1224.0L822.5 1224.0L824.5 1223.9L826.5 1223.9L828.5 1223.8L830.5 1223.8L832.5 1223.8L834.5 1223.7L836.5 1223.7L838.5 1223.6L840.5 1223.6L842.5 1223.5L844.5 1223.5L846.5 1223.4L848.5 1223.3L850.5 1223.3L852.5 1223.2L854.5 1223.2L856.5 1223.1L858.5 1223.0L860.5 1222.9L862.5 1222.8L864.5 1222.7L866.5 1222.6L868.5 1222.5L870.5 1222.4L872.5 1222.3L874.5 1222.2L876.5 1222.1L878.5 1222.0L880.5 1221.9L882.5 1221.8L884.5 1221.7L886.5 1221.6L888.5 1221.5L890.5 1221.3L892.5 1221.2L894.5 1221.1L896.5 1221.0L898.5 1220.9L900.5 1220.8L902.5 1220.7L904.5 1220.6L906.5 1220.5L908.5 1220.4L910.5 1220.3L912.5 1220.2L914.5 1220.1L916.5 1220.0L918.5 1219.9L920.5 1219.8L922.5 1219.7L924.5 1219.7L926.4 1219.6L928.4 1219.5L930.4 1219.4L932.4 1219.3L934.4 1219.2L936.4 1219.1L938.4 1219.1L940.4 1219.0L942.4 1218.9L944.4 1218.8L946.4 1218.7L948.4 1218.7L950.4 1218.6L952.4 1218.5L954.4 1218.4L956.4 1218.4L958.4 1218.3L960.4 1218.2L962.4 1218.1L964.4 1218.1L966.4 1218.0L968.4 1218.0L970.4 1217.9L972.4 1217.8L974.4 1217.8L976.4 1217.7L978.4 1217.7L980.4 1217.6L982.4 1217.6L984.4 1217.5L986.4 1217.5L988.4 1217.5L990.4 1217.4L992.4 1217.4L994.4 1217.4L996.4 1217.4L998.4 1217.3L1000.4 1217.3L1002.4 1217.3L1004.4 1217.2L1006.4 1217.2L1008.4 1217.2L1010.4 1217.2L1012.4 1217.1L1014.4 1217.1L1016.4 1217.1L1018.4 1217.1L1020.4 1217.1L1022.4 1217.0L1024.4 1217.0L1026.4 1217.0L1028.4 1217.0L1030.4 1217.0L1032.4 1216.9L1034.4 1216.9L1036.4 1216.9L1038.4 1216.9L1040.4 1216.9L1042.4 1216.9L1044.4 1216.8L1046.4 1216.8L1048.4 1216.8L1050.4 1216.8L1052.4 1216.8L1054.4 1216.8L1056.4 1216.7L1058.4 1216.7L1060.4 1216.7L1062.4 1216.7L1064.4 1216.7L1066.3 1216.6L1068.3 1216.6L1070.3 1216.6L1072.3 1216.6L1074.3 1216.6L1076.3 1216.6L1078.3 1216.5L1080.3 1216.5L1082.3 1216.5L1084.3 1216.5L1086.3 1216.4L1088.3 1216.4L1090.3 1216.4L1092.3 1216.4L1094.3 1216.3L1096.3 1216.3L1098.3 1216.3L1100.3 1216.3L1102.3 1216.2L1104.3 1216.2L1106.3 1216.2L1108.3 1216.1L1110.3 1216.1L1112.3 1216.1L1114.3 1216.0L1116.3 1216.0L1118.3 1216.0L1120.3 1215.9L1122.3 1215.9L1124.3 1215.9L1126.3 1215.8L1128.3 1215.8L1130.3 1215.8L1132.3 1215.7L1134.3 1215.7L1136.3 1215.7L1138.3 1215.6L1140.3 1215.6L1142.3 1215.6L1144.3 1215.6L1146.3 1215.5L1148.3 1215.5L1150.3 1215.5L1152.3 1215.5L1154.3 1215.4L1156.3 1215.4L1158.3 1215.4L1160.3 1215.4L1162.3 1215.4L1164.3 1215.3L1166.3 1215.3L1168.3 1215.3L1170.3 1215.3L1172.3 1215.3L1174.3 1215.3L1176.3 1215.3L1178.3 1215.2L1180.3 1215.2L1182.3 1215.2L1184.3 1215.2L1186.3 1215.2L1188.3 1215.2L1190.3 1215.1L1192.3 1215.1L1194.3 1215.1L1196.3 1215.1L1198.3 1215.1L1200.3 1215.1L1202.3 1215.1L1204.2 1215.0L1206.2 1215.0L1208.2 1215.0L1210.2 1215.0L1212.2 1215.0L1214.2 1215.0L1216.2 1215.0L1218.2 1214.9L1220.2 1214.9L1222.2 1214.9L1224.2 1214.9L1226.2 1214.9L1228.2 1214.9L1230.2 1214.9L1232.2 1214.9L1234.2 1214.9L1236.2 1214.8L1238.2 1214.8L1240.2 1214.8L1242.2 1214.8L1244.2 1214.8L1246.2 1214.8L1248.2 1214.8L1250.2 1214.8L1252.2 1214.8L1254.2 1214.8L1256.2 1214.8L1258.2 1214.8L1260.2 1214.7L1262.2 1214.7L1264.2 1214.7L1266.2 1214.7L1268.2 1214.7L1270.2 1214.7L1272.2 1214.7L1274.2 1214.7L1276.2 1214.7L1278.2 1214.7L1280.2 1214.7L1282.2 1214.7L1284.2 1214.7L1286.2 1214.7L1288.2 1214.7L1290.2 1214.7L1292.2 1214.7L1294.2 1214.7L1296.2 1214.7L1298.2 1214.7L1300.2 1214.7L1302.2 1214.8L1304.2 1214.8L1306.2 1214.8L1308.2 1214.8L1310.2 1214.8L1312.2 1214.8L1314.2 1214.9L1316.2 1214.9L1318.2 1214.9L1320.2 1215.0L1322.2 1215.0L1324.2 1215.0L1326.2 1215.0L1328.2 1215.1L1330.2 1215.1L1332.2 1215.2L1334.2 1215.2L1336.2 1215.2L1338.2 1215.3L1340.2 1215.3L1342.1 1215.3L1344.1 1215.4L1346.1 1215.4L1348.1 1215.5L1350.1 1215.5L1352.1 1215.6L1354.1 1215.6L1356.1 1215.6L1358.1 1215.7L1360.1 1215.7L1362.1 1215.8L1364.1 1215.8L1366.1 1215.9L1368.1 1215.9L1370.1 1216.0L1372.1 1216.0L1374.1 1216.1L1376.1 1216.1L1378.1 1216.2L1380.1 1216.3L1382.1 1216.4L1384.1 1216.4L1386.1 1216.5L1388.1 1216.6L1390.1 1216.7L1392.1 1216.8L1394.1 1216.9L1396.1 1216.9L1398.1 1217.0L1400.1 1217.1L1402.1 1217.2L1404.1 1217.3L1406.1 1217.4L1408.1 1217.5L1410.1 1217.6L1412.1 1217.7L1414.1 1217.8L1416.1 1217.8L1418.1 1217.9L1420.1 1218.0L1422.1 1218.1L1424.1 1218.2L1426.1 1218.3L1428.1 1218.3L1430.1 1218.4L1432.1 1218.5L1434.1 1218.6L1436.1 1218.6L1438.1 1218.7L1440.1 1218.8L1442.1 1218.9L1444.1 1219.0L1446.1 1219.1L1448.1 1219.2L1450.1 1219.2L1452.1 1219.3L1454.1 1219.4L1456.1 1219.5L1458.1 1219.6L1460.1 1219.7L1462.1 1219.7L1464.1 1219.8L1466.1 1219.9L1468.1 1219.9L1470.1 1220.0L1472.1 1220.1L1474.1 1220.1L1476.1 1220.1L1478.1 1220.2L1480.1 1220.2L1482.0 1220.2L1484.0 1220.2L1486.0 1220.2L1488.0 1220.2L1490.0 1220.2L1492.0 1220.2L1494.0 1220.2L1496.0 1220.2L1498.0 1220.2L1500.0 1220.2L1502.0 1220.2L1504.0 1220.2L1506.0 1220.2L1508.0 1220.2L1510.0 1220.2L1512.0 1220.2L1514.0 1220.2L1516.0 1220.1L1518.0 1220.1L1520.0 1220.1L1522.0 1220.1L1524.0 1220.1L1526.0 1220.1L1528.0 1220.1L1530.0 1220.0L1532.0 1220.0L1534.0 1220.0L1536.0 1220.0L1538.0 1219.9L1540.0 1219.9L1542.0 1219.9L1544.0 1219.8L1546.0 1219.8L1548.0 1219.7L1550.0 1219.7L1553.0 1219.5L1556.0 1219.3L1559.0 1219.1L1562.0 1218.9L1565.0 1218.7L1568.0 1218.5L1571.0 1218.3L1574.0 1218.0L1577.0 1217.8L1580.0 1217.6L1583.1 1217.3L1586.1 1217.0L1589.1 1216.8L1592.1 1216.5L1595.1 1216.2L1598.1 1215.9L1601.1 1215.6L1604.1 1215.3L1607.1 1214.9L1610.1 1214.6L1613.1 1214.3L1616.1 1213.9L1619.1 1213.5L1622.1 1213.2L1625.1 1212.8L1628.1 1212.4L1631.1 1212.0L1634.1 1211.6L1637.1 1211.1L1640.1 1210.7L1643.1 1210.2L1646.1 1209.8L1649.2 1209.3L1652.2 1208.8L1655.2 1208.3L1658.2 1207.8L1661.2 1207.3L1664.2 1206.7L1667.2 1206.2L1670.2 1205.6L1673.2 1205.0L1676.2 1204.4L1679.2 1203.8L1682.2 1203.2L1685.2 1202.5L1688.2 1201.9L1691.2 1201.2L1694.2 1200.5L1697.2 1199.7L1700.2 1199.0L1703.2 1198.2L1706.2 1197.4L1709.2 1196.6L1712.3 1195.7L1715.3 1194.9L1718.3 1194.0L1721.3 1193.0L1724.3 1192.1L1727.3 1191.1L1730.3 1190.1L1733.3 1189.0L1736.3 1187.9L1739.3 1186.8L1742.3 1185.7L1745.3 1184.5L1748.3 1183.3L1751.3 1182.1L1754.3 1180.8L1757.3 1179.5L1760.3 1178.1L1763.3 1176.7L1766.3 1175.3L1769.3 1173.8L1772.3 1172.3L1775.3 1170.8L1778.4 1169.2L1781.4 1167.5L1784.4 1165.9L1787.4 1164.1L1790.4 1162.4L1793.4 1160.6L1796.4 1158.8L1799.4 1156.9L1802.4 1155.0L1805.4 1153.0L1808.4 1151.0L1811.4 1148.9L1814.4 1146.9L1817.4 1144.7L1820.4 1142.6L1823.4 1140.3L1826.4 1138.1L1829.4 1135.8L1832.4 1133.4L1835.4 1131.1L1838.4 1128.6L1841.5 1126.2L1844.5 1123.6L1847.5 1121.1L1850.5 1118.5L1853.5 1115.8L1856.5 1113.2L1859.5 1110.4L1862.5 1107.7L1865.5 1104.8L1868.5 1102.0L1871.5 1099.1L1874.5 1096.1L1877.5 1093.1L1880.5 1090.1L1883.5 1087.0L1886.5 1083.8L1889.5 1080.6L1892.5 1077.4L1895.5 1074.1L1898.5 1070.7L1901.5 1067.3L1904.5 1063.8L1907.6 1060.3L1910.6 1056.8L1913.6 1053.2L1916.6 1049.5L1919.6 1045.7L1922.6 1042.0L1925.6 1038.1L1928.6 1034.2L1931.6 1030.2L1934.6 1026.2L1937.6 1022.1L1940.6 1018.0L1943.6 1013.8L1946.6 1009.5L1949.6 1005.2L1952.6 1000.8L1955.6 996.4L1958.6 991.9L1961.6 987.4L1964.6 982.8L1967.6 978.3L1970.6 973.6L1973.7 969.0L1976.7 964.3L1979.7 959.6L1982.7 954.9L1985.7 950.1L1988.7 945.4L1991.7 940.6L1994.7 935.8L1997.7 931.0L2000.7 926.2L2003.7 921.4L2006.7 916.6L2009.7 911.8L2012.7 907.1L2015.7 902.3L2018.7 897.6L2021.7 892.9L2024.7 888.2L2027.7 883.5L2030.7 878.9L2033.7 874.3L2036.8 869.8L2039.8 865.4L2042.8 860.9L2045.8 856.6L2048.8 852.3L2051.8 848.1L2054.8 844.0L2057.8 839.9L2060.8 835.9L2063.8 832.0L2066.8 828.3L2069.8 824.6L2072.8 821.0L2075.8 817.5L2078.8 814.1L2081.8 810.9L2084.8 807.8L2087.8 804.9L2090.8 802.1L2093.8 799.5L2096.8 797.1L2099.8 794.8L2102.9 792.8L2105.9 790.9L2108.9 789.3L2111.9 787.8L2114.9 786.6L2117.9 785.5L2120.9 784.6L2123.9 783.9L2126.9 783.4L2129.9 783.1L2132.9 782.9L2135.9 783.0L2138.9 783.2L2141.9 783.7L2144.9 784.4L2147.9 785.3L2150.9 786.5L2153.9 788.1L2156.9 789.9L2159.9 792.1L2162.9 794.6L2166.0 797.5L2169.0 800.8L2172.0 804.5L2175.0 808.7L2178.0 813.3L2181.0 818.5L2184.0 824.2L2187.0 830.5L2190.0 837.4L2193.0 844.9L2196.0 853.0L2199.0 861.6L2202.0 870.7L2205.0 880.1L2208.0 889.9L2211.0 900.0L2214.0 910.2L2217.0 920.6L2220.0 931.0L2223.0 941.4L2226.0 951.9L2229.0 962.3L2232.1 972.9L2235.1 983.5L2238.1 994.3L2241.1 1005.2L2244.1 1016.4L2247.1 1027.9L2250.1 1039.6L2253.1 1051.6L2256.1 1064.0L2259.1 1076.8L2262.1 1090.0L2264.1 1103.4L2266.1 1114.8L2268.2 1122.7L2270.2 1128.8L2272.2 1133.9L2274.2 1138.4L2276.2 1142.6L2278.2 1147.0L2280.3 1151.7L2282.3 1156.4L2284.3 1161.2L2286.3 1165.8L2288.3 1170.2L2290.4 1174.5L2292.4 1178.4L2294.4 1182.2L2296.4 1185.9L2298.4 1189.4L2300.5 1192.8L2302.5 1195.9L2304.5 1198.9L2306.5 1201.6L2308.5 1204.2L2310.5 1206.7L2312.6 1209.0L2314.6 1210.9L2316.6 1212.5L2318.6 1213.9L2320.6 1215.1L2322.7 1216.2L2324.7 1217.1L2326.7 1217.7" stroke="#0000ff" stroke-width="10.4"/>
<path class="c" d="M163.0 1004.8L165.0 1005.1L167.0 1005.4L169.0 1005.7L171.0 1005.9L173.0 1006.2L175.0 1006.5L177.0 1006.8L179.0 1007.1L181.0 1007.3L183.0 1007.6L185.0 1007.9L187.0 1008.2L189.0 1008.4L191.0 1008.7L193.0 1009.0L195.0 1009.2L197.0 1009.5L199.0 1009.8L201.0 1010.0L203.0 1010.3L205.0 1010.6L207.0 1010.8L209.0 1011.1L211.0 1011.3L213.0 1011.6L215.0 1011.9L217.0 1012.1L219.0 1012.4L221.0 1012.6L223.0 1012.9L225.0 1013.1L227.0 1013.4L229.0 1013.6L231.0 1013.8L232.9 1014.1L234.9 1014.3L236.9 1014.6L238.9 1014.8L240.9 1015.0L242.9 1015.2L244.9 1015.4L246.9 1015.6L248.9 1015.8L250.9 1016.0L252.9 1016.2L254.9 1016.4L256.9 1016.6L258.9 1016.8L260.9 1016.9L262.9 1017.1L264.9 1017.3L266.9 1017.5L268.9 1017.6L270.9 1017.8L272.9 1018.0L274.9 1018.1L276.9 1018.3L278.9 1018.5L280.9 1018.7L282.9 1018.9L284.9 1019.1L286.9 1019.2L288.9 1019.4L290.9 1019.6L292.9 1019.8L294.9 1020.1L296.9 1020.3L298.9 1020.5L300.9 1020.7L302.9 1021.0L304.9 1021.2L306.9 1021.5L308.9 1021.7L310.9 1022.0L312.9 1022.3L314.9 1022.6L316.9 1022.9L318.9 1023.2L320.9 1023.5L322.9 1023.9L324.9 1024.3L326.9 1024.8L328.9 1025.3L330.9 1025.8L332.9 1026.4L334.9 1027.0L336.9 1027.7L338.9 1028.3L340.9 1029.0L342.9 1029.7L344.9 1030.4L346.9 1031.1L348.9 1031.7L350.9 1032.4L352.9 1033.1L354.9 1033.7L356.9 1034.3L358.9 1035.0L360.9 1035.6L362.9 1036.3L364.9 1037.0L366.9 1037.6L368.9 1038.3L370.9 1039.0L372.8 1039.7L374.8 1040.4L376.8 1041.1L378.8 1041.8L380.8 1042.5L382.8 1043.2L384.8 1043.9L386.8 1044.6L388.8 1045.2L390.8 1045.8L392.8 1046.5L394.8 1047.0L396.8 1047.6L398.8 1048.2L400.8 1048.7L402.8 1049.1L404.8 1049.6L406.8 1050.0L408.8 1050.4L410.8 1050.8L412.8 1051.2L414.8 1051.6L416.8 1052.0L418.8 1052.4L420.8 1052.8L422.8 1053.2L424.8 1053.6L426.8 1053.9L428.8 1054.2L430.8 1054.4L432.8 1054.7L434.8 1054.8L436.8 1055.0L438.8 1055.1L440.8 1055.1L442.8 1055.1L444.8 1055.1L446.8 1055.1L448.8 1055.1L450.8 1055.1L452.8 1055.1L454.8 1055.1L456.8 1055.1L458.8 1055.1L460.8 1055.1L462.8 1055.1L464.8 1055.1L466.8 1055.1L468.8 1055.1L470.8 1055.1L472.8 1055.1L474.8 1055.1L476.8 1055.1L478.8 1055.1L480.8 1055.0L482.8 1055.0L484.8 1054.9L486.8 1054.9L488.8 1054.8L490.8 1054.7L492.8 1054.6L494.8 1054.5L496.8 1054.3L498.8 1054.2L500.8 1054.1L502.8 1053.9L504.8 1053.7L506.8 1053.6L508.8 1053.4L510.7 1053.2L512.7 1053.0L514.7 1052.8L516.7 1052.6L518.7 1052.4L520.7 1052.2L522.7 1052.0L524.7 1051.8L526.7 1051.5L528.7 1051.3L530.7 1051.1L532.7 1050.8L534.7 1050.6L536.7 1050.4L538.7 1050.1L540.7 1049.9L542.7 1049.7L544.7 1049.4L546.7 1049.2L548.7 1049.0L550.7 1048.7L552.7 1048.5L554.7 1048.3L556.7 1048.1L558.7 1047.8L560.7 1047.6L562.7 1047.4L564.7 1047.2L566.7 1047.0L568.7 1046.7L570.7 1046.5L572.7 1046.3L574.7 1046.0L576.7 1045.8L578.7 1045.5L580.7 1045.2L582.7 1045.0L584.7 1044.7L586.7 1044.4L588.7 1044.2L590.7 1043.9L592.7 1043.6L594.7 1043.3L596.7 1043.0L598.7 1042.7L600.7 1042.4L602.7 1042.2L604.7 1041.9L606.7 1041.6L608.7 1041.3L610.7 1041.0L612.7 1040.7L614.7 1040.4L616.7 1040.1L618.7 1039.8L620.7 1039.5L622.7 1039.2L624.7 1038.9L626.7 1038.6L628.7 1038.3L630.7 1038.0L632.7 1037.8L634.7 1037.5L636.7 1037.2L638.7 1036.9L640.7 1036.7L642.7 1036.4L644.7 1036.1L646.7 1035.9L648.6 1035.6L650.6 1035.4L652.6 1035.1L654.6 1034.9L656.6 1034.7L658.6 1034.4L660.6 1034.2L662.6 1034.0L664.6 1033.8L666.6 1033.6L668.6 1033.4L670.6 1033.2L672.6 1033.0L674.6 1032.7L676.6 1032.5L678.6 1032.3L680.6 1032.1L682.6 1031.9L684.6 1031.7L686.6 1031.4L688.6 1031.2L690.6 1031.0L692.6 1030.8L694.6 1030.6L696.6 1030.4L698.6 1030.2L700.6 1029.9L702.6 1029.7L704.6 1029.5L706.6 1029.3L708.6 1029.1L710.6 1028.9L712.6 1028.7L714.6 1028.5L716.6 1028.3L718.6 1028.2L720.6 1028.0L722.6 1027.8L724.6 1027.6L726.6 1027.5L728.6 1027.3L730.6 1027.1L732.6 1027.0L734.6 1026.8L736.6 1026.7L738.6 1026.5L740.6 1026.4L742.6 1026.3L744.6 1026.2L746.6 1026.0L748.6 1025.9L750.6 1025.8L752.6 1025.7L754.6 1025.6L756.6 1025.6L758.6 1025.5L760.6 1025.4L762.6 1025.4L764.6 1025.3L766.6 1025.3L768.6 1025.3L770.6 1025.2L772.6 1025.2L774.6 1025.2L776.6 1025.2L778.6 1025.1L780.6 1025.1L782.6 1025.1L784.6 1025.1L786.6 1025.1L788.5 1025.0L790.5 1025.0L792.5 1025.0L794.5 1025.0L796.5 1025.0L798.5 1025.0L800.5 1025.0L802.5 1024.9L804.5 1024.9L806.5 1024.9L808.5 1024.9L810.5 1024.9L812.5 1024.9L814.5 1024.9L816.5 1024.9L818.5 1024.8L820.5 1024.8L822.5 1024.8L824.5 1024.8L826.5 1024.8L828.5 1024.8L830.5 1024.8L832.5 1024.7L834.5 1024.7L836.5 1024.7L838.5 1024.7L840.5 1024.6L842.5 1024.6L844.5 1024.6L846.5 1024.6L848.5 1024.5L850.5 1024.5L852.5 1024.4L854.5 1024.4L856.5 1024.3L858.5 1024.2L860.5 1024.1L862.5 1023.9L864.5 1023.8L866.5 1023.6L868.5 1023.4L870.5 1023.3L872.5 1023.1L874.5 1022.9L876.5 1022.7L878.5 1022.5L880.5 1022.2L882.5 1022.0L884.5 1021.8L886.5 1021.6L888.5 1021.3L890.5 1021.1L892.5 1020.9L894.5 1020.7L896.5 1020.4L898.5 1020.2L900.5 1020.0L902.5 1019.8L904.5 1019.6L906.5 1019.4L908.5 1019.2L910.5 1019.1L912.5 1018.9L914.5 1018.8L916.5 1018.6L918.5 1018.5L920.5 1018.4L922.5 1018.3L924.5 1018.2L926.4 1018.1L928.4 1018.0L930.4 1017.9L932.4 1017.7L934.4 1017.6L936.4 1017.5L938.4 1017.4L940.4 1017.3L942.4 1017.2L944.4 1017.1L946.4 1017.0L948.4 1016.9L950.4 1016.9L952.4 1016.8L954.4 1016.7L956.4 1016.6L958.4 1016.5L960.4 1016.4L962.4 1016.4L964.4 1016.3L966.4 1016.2L968.4 1016.2L970.4 1016.1L972.4 1016.0L974.4 1016.0L976.4 1016.0L978.4 1015.9L980.4 1015.9L982.4 1015.8L984.4 1015.8L986.4 1015.8L988.4 1015.8L990.4 1015.8L992.4 1015.8L994.4 1015.7L996.4 1015.7L998.4 1015.7L1000.4 1015.7L1002.4 1015.7L1004.4 1015.7L1006.4 1015.7L1008.4 1015.7L1010.4 1015.7L1012.4 1015.7L1014.4 1015.7L1016.4 1015.6L1018.4 1015.6L1020.4 1015.6L1022.4 1015.6L1024.4 1015.6L1026.4 1015.6L1028.4 1015.6L1030.4 1015.6L1032.4 1015.6L1034.4 1015.6L1036.4 1015.6L1038.4 1015.6L1040.4 1015.6L1042.4 1015.6L1044.4 1015.6L1046.4 1015.6L1048.4 1015.6L1050.4 1015.6L1052.4 1015.5L1054.4 1015.5L1056.4 1015.5L1058.4 1015.5L1060.4 1015.5L1062.4 1015.5L1064.4 1015.5L1066.3 1015.5L1068.3 1015.5L1070.3 1015.5L1072.3 1015.5L1074.3 1015.5L1076.3 1015.5L1078.3 1015.5L1080.3 1015.5L1082.3 1015.4L1084.3 1015.4L1086.3 1015.4L1088.3 1015.4L1090.3 1015.4L1092.3 1015.4L1094.3 1015.4L1096.3 1015.4L1098.3 1015.3L1100.3 1015.3L1102.3 1015.3L1104.3 1015.3L1106.3 1015.3L1108.3 1015.3L1110.3 1015.2L1112.3 1015.2L1114.3 1015.2L1116.3 1015.2L1118.3 1015.2L1120.3 1015.1L1122.3 1015.1L1124.3 1015.1L1126.3 1015.1L1128.3 1015.0L1130.3 1015.0L1132.3 1015.0L1134.3 1015.0L1136.3 1014.9L1138.3 1014.9L1140.3 1014.9L1142.3 1014.8L1144.3 1014.8L1146.3 1014.8L1148.3 1014.8L1150.3 1014.7L1152.3 1014.7L1154.3 1014.7L1156.3 1014.6L1158.3 1014.6L1160.3 1014.6L1162.3 1014.5L1164.3 1014.5L1166.3 1014.5L1168.3 1014.4L1170.3 1014.4L1172.3 1014.4L1174.3 1014.3L1176.3 1014.3L1178.3 1014.3L1180.3 1014.2L1182.3 1014.2L1184.3 1014.1L1186.3 1014.1L1188.3 1014.1L1190.3 1014.0L1192.3 1014.0L1194.3 1014.0L1196.3 1013.9L1198.3 1013.9L1200.3 1013.9L1202.3 1013.8L1204.2 1013.8L1206.2 1013.7L1208.2 1013.7L1210.2 1013.6L1212.2 1013.6L1214.2 1013.6L1216.2 1013.5L1218.2 1013.5L1220.2 1013.4L1222.2 1013.4L1224.2 1013.3L1226.2 1013.3L1228.2 1013.2L1230.2 1013.1L1232.2 1013.1L1234.2 1013.0L1236.2 1013.0L1238.2 1012.9L1240.2 1012.8L1242.2 1012.8L1244.2 1012.7L1246.2 1012.6L1248.2 1012.5L1250.2 1012.4L1252.2 1012.3L1254.2 1012.2L1256.2 1012.0L1258.2 1011.9L1260.2 1011.7L1262.2 1011.6L1264.2 1011.4L1266.2 1011.3L1268.2 1011.1L1270.2 1011.0L1272.2 1010.8L1274.2 1010.7L1276.2 1010.5L1278.2 1010.4L1280.2 1010.3L1282.2 1010.2L1284.2 1010.1L1286.2 1010.0L1288.2 1009.9L1290.2 1009.8L1292.2 1009.8L1294.2 1009.7L1296.2 1009.6L1298.2 1009.6L1300.2 1009.5L1302.2 1009.5L1304.2 1009.4L1306.2 1009.4L1308.2 1009.3L1310.2 1009.3L1312.2 1009.3L1314.2 1009.2L1316.2 1009.2L1318.2 1009.2L1320.2 1009.2L1322.2 1009.2L1324.2 1009.3L1326.2 1009.4L1328.2 1009.5L1330.2 1009.6L1332.2 1009.7L1334.2 1009.9L1336.2 1010.1L1338.2 1010.2L1340.2 1010.4L1342.1 1010.6L1344.1 1010.8L1346.1 1011.0L1348.1 1011.1L1350.1 1011.4L1352.1 1011.6L1354.1 1011.9L1356.1 1012.2L1358.1 1012.4L1360.1 1012.8L1362.1 1013.1L1364.1 1013.4L1366.1 1013.7L1368.1 1014.0L1370.1 1014.2L1372.1 1014.5L1374.1 1014.7L1376.1 1014.9L1378.1 1015.1L1380.1 1015.2L1382.1 1015.3L1384.1 1015.5L1386.1 1015.6L1388.1 1015.7L1390.1 1015.9L1392.1 1016.0L1394.1 1016.1L1396.1 1016.2L1398.1 1016.3L1400.1 1016.4L1402.1 1016.5L1404.1 1016.6L1406.1 1016.7L1408.1 1016.8L1410.1 1016.9L1412.1 1016.9L1414.1 1017.0L1416.1 1017.1L1418.1 1017.2L1420.1 1017.3L1422.1 1017.4L1424.1 1017.4L1426.1 1017.5L1428.1 1017.6L1430.1 1017.7L1432.1 1017.8L1434.1 1017.9L1436.1 1018.0L1438.1 1018.1L1440.1 1018.2L1442.1 1018.3L1444.1 1018.4L1446.1 1018.5L1448.1 1018.6L1450.1 1018.7L1452.1 1018.8L1454.1 1018.9L1456.1 1019.0L1458.1 1019.1L1460.1 1019.2L1462.1 1019.3L1464.1 1019.4L1466.1 1019.5L1468.1 1019.6L1470.1 1019.7L1472.1 1019.7L1474.1 1019.8L1476.1 1019.8L1478.1 1019.9L1480.1 1019.9L1482.0 1019.9L1484.0 1019.9L1486.0 1019.9L1488.0 1019.9L1490.0 1019.9L1492.0 1019.9L1494.0 1019.9L1496.0 1019.9L1498.0 1019.9L1500.0 1019.9L1502.0 1019.9L1504.0 1019.9L1506.0 1019.9L1508.0 1019.9L1510.0 1019.9L1512.0 1019.8L1514.0 1019.8L1516.0 1019.8L1518.0 1019.8L1520.0 1019.8L1522.0 1019.8L1524.0 1019.7L1526.0 1019.7L1528.0 1019.7L1530.0 1019.7L1532.0 1019.6L1534.0 1019.6L1536.0 1019.6L1538.0 1019.5L1540.0 1019.5L1542.0 1019.4L1544.0 1019.4L1546.0 1019.3L1548.0 1019.3L1550.0 1019.2L1553.0 1019.2L1556.0 1019.2L1559.0 1019.2L1562.0 1019.2L1565.0 1019.1L1568.0 1019.0L1571.0 1018.9L1574.0 1018.7L1577.0 1018.5L1579.9 1018.4L1582.9 1018.2L1585.9 1017.9L1588.9 1017.7L1591.9 1017.4L1594.9 1017.1L1597.9 1016.8L1600.9 1016.5L1603.9 1016.2L1606.9 1015.8L1609.9 1015.5L1612.9 1015.1L1615.9 1014.7L1618.9 1014.3L1621.9 1013.9L1624.9 1013.5L1627.9 1013.1L1630.9 1012.7L1633.9 1012.3L1636.9 1011.8L1639.8 1011.4L1642.8 1010.9L1645.8 1010.5L1648.8 1010.0L1651.8 1009.6L1654.8 1009.1L1657.8 1008.7L1660.8 1008.2L1663.8 1007.8L1666.8 1007.3L1669.8 1006.9L1672.8 1006.4L1675.8 1005.9L1678.8 1005.5L1681.8 1005.0L1684.8 1004.5L1687.8 1004.0L1690.8 1003.5L1693.8 1002.9L1696.8 1002.4L1699.7 1001.8L1702.7 1001.2L1705.7 1000.6L1708.7 1000.0L1711.7 999.3L1714.7 998.7L1717.7 998.0L1720.7 997.2L1723.7 996.5L1726.7 995.7L1729.7 994.8L1732.7 994.0L1735.7 993.1L1738.7 992.1L1741.7 991.1L1744.7 990.1L1747.7 989.1L1750.7 987.9L1753.7 986.8L1756.7 985.6L1759.6 984.3L1762.6 983.0L1765.6 981.7L1768.6 980.3L1771.6 978.8L1774.6 977.3L1777.6 975.7L1780.6 974.1L1783.6 972.4L1786.6 970.7L1789.6 968.9L1792.6 967.0L1795.6 965.2L1798.6 963.2L1801.6 961.2L1804.6 959.1L1807.6 957.0L1810.6 954.9L1813.6 952.7L1816.6 950.4L1819.5 948.1L1822.5 945.7L1825.5 943.3L1828.5 940.8L1831.5 938.3L1834.5 935.8L1837.5 933.2L1840.5 930.5L1843.5 927.8L1846.5 925.1L1849.5 922.3L1852.5 919.4L1855.5 916.5L1858.5 913.6L1861.5 910.6L1864.5 907.6L1867.5 904.5L1870.5 901.4L1873.5 898.2L1876.5 895.0L1879.4 891.7L1882.4 888.4L1885.4 885.0L1888.4 881.6L1891.4 878.2L1894.4 874.7L1897.4 871.1L1900.4 867.5L1903.4 863.9L1906.4 860.2L1909.4 856.5L1912.4 852.7L1915.4 848.8L1918.4 844.9L1921.4 841.0L1924.4 837.0L1927.4 832.9L1930.4 828.8L1933.4 824.7L1936.3 820.5L1939.3 816.2L1942.3 811.9L1945.3 807.5L1948.3 803.1L1951.3 798.7L1954.3 794.2L1957.3 789.6L1960.3 785.0L1963.3 780.3L1966.3 775.6L1969.3 770.9L1972.3 766.0L1975.3 761.2L1978.3 756.3L1981.3 751.3L1984.3 746.3L1987.3 741.3L1990.3 736.2L1993.3 731.1L1996.2 725.9L1999.2 720.7L2002.2 715.4L2005.2 710.1L2008.2 704.7L2011.2 699.3L2014.2 693.9L2017.2 688.5L2020.2 683.0L2023.2 677.5L2026.2 671.9L2029.2 666.4L2032.2 660.8L2035.2 655.2L2038.2 649.6L2041.2 644.0L2044.2 638.5L2047.2 632.9L2050.2 627.3L2053.2 621.7L2056.1 616.2L2059.1 610.7L2062.1 605.2L2065.1 599.7L2068.1 594.2L2071.1 588.8L2074.1 583.4L2077.1 578.1L2080.1 572.8L2083.1 567.5L2086.1 562.3L2089.1 557.2L2092.1 552.2L2095.1 547.2L2098.1 542.4L2101.1 537.7L2104.1 533.2L2107.1 528.9L2110.1 524.8L2113.1 520.9L2116.0 517.3L2119.0 514.0L2122.0 511.0L2125.0 508.3L2128.0 505.9L2131.0 503.9L2134.0 502.1L2137.0 500.7L2140.0 499.6L2143.0 498.9L2146.0 498.5L2149.0 498.4L2152.0 498.8L2155.0 499.5L2158.0 500.6L2161.0 502.1L2164.0 504.0L2167.0 506.3L2170.0 509.1L2173.0 512.3L2175.9 515.9L2178.9 520.0L2181.9 524.6L2184.9 529.7L2187.9 535.3L2190.9 541.5L2193.9 548.1L2196.9 555.3L2199.9 563.1L2202.9 571.5L2205.9 580.5L2208.9 590.1L2211.9 600.2L2214.9 610.8L2217.9 621.8L2220.9 633.1L2223.9 644.6L2226.9 656.3L2229.9 668.1L2232.9 679.9L2235.8 691.6L2238.8 703.2L2241.8 714.9L2244.8 726.9L2247.8 739.4L2250.8 752.7L2253.8 766.9L2256.8 782.3L2259.8 799.1L2262.8 817.5L2264.8 828.9L2266.8 839.0L2268.8 847.7L2270.8 855.4L2272.8 862.7L2274.8 870.1L2276.8 877.5L2278.8 884.8L2280.8 892.1L2282.8 899.3L2284.8 906.7L2286.8 914.1L2288.8 921.4L2290.8 928.3L2292.8 934.7L2294.8 940.7L2296.7 946.6L2298.7 952.6L2300.7 958.8L2302.7 965.7L2304.7 972.6L2306.7 978.9L2308.7 984.5L2310.7 989.6L2312.7 994.1L2314.7 998.2L2316.7 1001.7L2318.7 1004.5L2320.7 1006.8L2322.7 1008.8L2324.7 1010.4L2326.7 1011.5" stroke="#ff00ff" stroke-width="10.4"/>
<path class="c" d="M163.0 817.1L165.0 817.2L167.0 817.2L169.0 817.3L171.0 817.4L173.0 817.4L175.0 817.5L177.0 817.6L179.0 817.6L181.0 817.7L183.0 817.8L185.0 817.9L187.0 818.0L189.0 818.1L191.0 818.1L193.0 818.2L195.0 818.3L197.0 818.4L199.0 818.5L201.0 818.6L203.0 818.7L205.0 818.8L207.0 818.9L209.0 819.0L211.0 819.1L213.0 819.2L215.0 819.3L217.0 819.4L219.0 819.5L221.0 819.7L223.0 819.8L225.0 819.9L227.0 820.0L229.0 820.1L231.0 820.2L232.9 820.3L234.9 820.5L236.9 820.6L238.9 820.7L240.9 820.8L242.9 820.9L244.9 821.1L246.9 821.2L248.9 821.3L250.9 821.4L252.9 821.6L254.9 821.7L256.9 821.8L258.9 822.0L260.9 822.1L262.9 822.2L264.9 822.4L266.9 822.5L268.9 822.7L270.9 822.8L272.9 823.0L274.9 823.1L276.9 823.3L278.9 823.4L280.9 823.6L282.9 823.8L284.9 823.9L286.9 824.1L288.9 824.3L290.9 824.5L292.9 824.6L294.9 824.8L296.9 825.0L298.9 825.2L300.9 825.4L302.9 825.6L304.9 825.8L306.9 826.0L308.9 826.3L310.9 826.5L312.9 826.7L314.9 826.9L316.9 827.2L318.9 827.4L320.9 827.7L322.9 827.9L324.9 828.2L326.9 828.5L328.9 828.9L330.9 829.2L332.9 829.6L334.9 830.0L336.9 830.4L338.9 830.8L340.9 831.3L342.9 831.7L344.9 832.2L346.9 832.7L348.9 833.1L350.9 833.6L352.9 834.1L354.9 834.6L356.9 835.1L358.9 835.6L360.9 836.1L362.9 836.5L364.9 837.0L366.9 837.5L368.9 837.9L370.9 838.3L372.8 838.8L374.8 839.2L376.8 839.6L378.8 840.0L380.8 840.5L382.8 840.9L384.8 841.4L386.8 841.9L388.8 842.3L390.8 842.8L392.8 843.2L394.8 843.7L396.8 844.1L398.8 844.6L400.8 845.0L402.8 845.5L404.8 845.9L406.8 846.3L408.8 846.7L410.8 847.0L412.8 847.4L414.8 847.7L416.8 848.0L418.8 848.3L420.8 848.6L422.8 848.9L424.8 849.1L426.8 849.3L428.8 849.5L430.8 849.8L432.8 850.0L434.8 850.2L436.8 850.4L438.8 850.6L440.8 850.8L442.8 851.0L444.8 851.1L446.8 851.3L448.8 851.4L450.8 851.5L452.8 851.6L454.8 851.7L456.8 851.7L458.8 851.7L460.8 851.7L462.8 851.7L464.8 851.7L466.8 851.6L468.8 851.6L470.8 851.6L472.8 851.5L474.8 851.4L476.8 851.4L478.8 851.3L480.8 851.3L482.8 851.2L484.8 851.1L486.8 851.0L488.8 850.9L490.8 850.9L492.8 850.8L494.8 850.7L496.8 850.6L498.8 850.5L500.8 850.4L502.8 850.3L504.8 850.2L506.8 850.1L508.8 850.0L510.7 849.9L512.7 849.8L514.7 849.7L516.7 849.6L518.7 849.5L520.7 849.4L522.7 849.3L524.7 849.1L526.7 849.0L528.7 848.8L530.7 848.7L532.7 848.5L534.7 848.4L536.7 848.2L538.7 848.1L540.7 847.9L542.7 847.7L544.7 847.5L546.7 847.4L548.7 847.2L550.7 847.0L552.7 846.8L554.7 846.6L556.7 846.4L558.7 846.2L560.7 846.0L562.7 845.9L564.7 845.7L566.7 845.5L568.7 845.3L570.7 845.1L572.7 844.9L574.7 844.7L576.7 844.5L578.7 844.3L580.7 844.1L582.7 843.9L584.7 843.7L586.7 843.6L588.7 843.4L590.7 843.2L592.7 843.0L594.7 842.8L596.7 842.7L598.7 842.5L600.7 842.3L602.7 842.1L604.7 842.0L606.7 841.8L608.7 841.6L610.7 841.4L612.7 841.2L614.7 841.1L616.7 840.9L618.7 840.7L620.7 840.5L622.7 840.3L624.7 840.1L626.7 839.9L628.7 839.7L630.7 839.6L632.7 839.4L634.7 839.2L636.7 839.0L638.7 838.8L640.7 838.6L642.7 838.4L644.7 838.2L646.7 838.0L648.6 837.9L650.6 837.7L652.6 837.5L654.6 837.3L656.6 837.1L658.6 836.9L660.6 836.7L662.6 836.6L664.6 836.4L666.6 836.2L668.6 836.0L670.6 835.9L672.6 835.7L674.6 835.5L676.6 835.3L678.6 835.2L680.6 835.0L682.6 834.8L684.6 834.7L686.6 834.5L688.6 834.3L690.6 834.2L692.6 834.0L694.6 833.9L696.6 833.7L698.6 833.6L700.6 833.4L702.6 833.2L704.6 833.1L706.6 832.9L708.6 832.8L710.6 832.6L712.6 832.4L714.6 832.3L716.6 832.1L718.6 831.9L720.6 831.8L722.6 831.6L724.6 831.4L726.6 831.3L728.6 831.1L730.6 830.9L732.6 830.8L734.6 830.6L736.6 830.5L738.6 830.4L740.6 830.2L742.6 830.1L744.6 830.0L746.6 829.8L748.6 829.7L750.6 829.6L752.6 829.5L754.6 829.4L756.6 829.4L758.6 829.3L760.6 829.2L762.6 829.2L764.6 829.1L766.6 829.1L768.6 829.1L770.6 829.0L772.6 829.0L774.6 829.0L776.6 829.0L778.6 829.0L780.6 828.9L782.6 828.9L784.6 828.9L786.6 828.9L788.5 828.9L790.5 828.9L792.5 828.9L794.5 828.9L796.5 828.8L798.5 828.8L800.5 828.8L802.5 828.8L804.5 828.8L806.5 828.8L808.5 828.8L810.5 828.8L812.5 828.8L814.5 828.8L816.5 828.7L818.5 828.7L820.5 828.7L822.5 828.7L824.5 828.7L826.5 828.7L828.5 828.7L830.5 828.7L832.5 828.7L834.5 828.6L836.5 828.6L838.5 828.6L840.5 828.6L842.5 828.6L844.5 828.6L846.5 828.5L848.5 828.5L850.5 828.5L852.5 828.5L854.5 828.4L856.5 828.4L858.5 828.3L860.5 828.3L862.5 828.2L864.5 828.2L866.5 828.1L868.5 828.0L870.5 828.0L872.5 827.9L874.5 827.8L876.5 827.7L878.5 827.6L880.5 827.6L882.5 827.5L884.5 827.4L886.5 827.3L888.5 827.2L890.5 827.1L892.5 827.0L894.5 826.9L896.5 826.8L898.5 826.6L900.5 826.5L902.5 826.4L904.5 826.3L906.5 826.2L908.5 826.1L910.5 826.0L912.5 825.9L914.5 825.8L916.5 825.6L918.5 825.5L920.5 825.4L922.5 825.3L924.5 825.2L926.4 825.1L928.4 825.0L930.4 824.9L932.4 824.8L934.4 824.7L936.4 824.6L938.4 824.5L940.4 824.5L942.4 824.4L944.4 824.3L946.4 824.2L948.4 824.1L950.4 824.1L952.4 824.0L954.4 823.9L956.4 823.9L958.4 823.8L960.4 823.8L962.4 823.7L964.4 823.7L966.4 823.6L968.4 823.5L970.4 823.5L972.4 823.4L974.4 823.4L976.4 823.3L978.4 823.3L980.4 823.2L982.4 823.2L984.4 823.1L986.4 823.1L988.4 823.0L990.4 823.0L992.4 822.9L994.4 822.9L996.4 822.8L998.4 822.8L1000.4 822.7L1002.4 822.7L1004.4 822.6L1006.4 822.6L1008.4 822.5L1010.4 822.5L1012.4 822.4L1014.4 822.4L1016.4 822.4L1018.4 822.3L1020.4 822.3L1022.4 822.2L1024.4 822.2L1026.4 822.1L1028.4 822.1L1030.4 822.1L1032.4 822.0L1034.4 822.0L1036.4 821.9L1038.4 821.9L1040.4 821.9L1042.4 821.8L1044.4 821.8L1046.4 821.8L1048.4 821.7L1050.4 821.7L1052.4 821.7L1054.4 821.6L1056.4 821.6L1058.4 821.6L1060.4 821.5L1062.4 821.5L1064.4 821.4L1066.3 821.4L1068.3 821.4L1070.3 821.3L1072.3 821.3L1074.3 821.3L1076.3 821.2L1078.3 821.2L1080.3 821.2L1082.3 821.1L1084.3 821.1L1086.3 821.1L1088.3 821.0L1090.3 821.0L1092.3 821.0L1094.3 820.9L1096.3 820.9L1098.3 820.9L1100.3 820.8L1102.3 820.8L1104.3 820.8L1106.3 820.7L1108.3 820.7L1110.3 820.7L1112.3 820.7L1114.3 820.6L1116.3 820.6L1118.3 820.6L1120.3 820.6L1122.3 820.5L1124.3 820.5L1126.3 820.5L1128.3 820.5L1130.3 820.4L1132.3 820.4L1134.3 820.4L1136.3 820.4L1138.3 820.3L1140.3 820.3L1142.3 820.3L1144.3 820.3L1146.3 820.3L1148.3 820.3L1150.3 820.2L1152.3 820.2L1154.3 820.2L1156.3 820.2L1158.3 820.2L1160.3 820.2L1162.3 820.2L1164.3 820.2L1166.3 820.2L1168.3 820.2L1170.3 820.1L1172.3 820.1L1174.3 820.1L1176.3 820.1L1178.3 820.1L1180.3 820.1L1182.3 820.1L1184.3 820.1L1186.3 820.1L1188.3 820.1L1190.3 820.1L1192.3 820.1L1194.3 820.1L1196.3 820.1L1198.3 820.1L1200.3 820.1L1202.3 820.1L1204.2 820.1L1206.2 820.1L1208.2 820.0L1210.2 820.0L1212.2 820.0L1214.2 820.0L1216.2 820.0L1218.2 820.0L1220.2 820.0L1222.2 820.0L1224.2 820.0L1226.2 820.0L1228.2 820.0L1230.2 820.0L1232.2 820.0L1234.2 820.0L1236.2 820.0L1238.2 820.0L1240.2 820.0L1242.2 820.0L1244.2 820.0L1246.2 820.0L1248.2 819.9L1250.2 819.9L1252.2 819.9L1254.2 819.9L1256.2 819.9L1258.2 819.9L1260.2 819.9L1262.2 819.9L1264.2 819.9L1266.2 819.9L1268.2 819.9L1270.2 819.8L1272.2 819.8L1274.2 819.8L1276.2 819.8L1278.2 819.8L1280.2 819.7L1282.2 819.7L1284.2 819.7L1286.2 819.7L1288.2 819.7L1290.2 819.6L1292.2 819.6L1294.2 819.6L1296.2 819.6L1298.2 819.6L1300.2 819.5L1302.2 819.5L1304.2 819.5L1306.2 819.5L1308.2 819.5L1310.2 819.5L1312.2 819.5L1314.2 819.5L1316.2 819.5L1318.2 819.5L1320.2 819.5L1322.2 819.6L1324.2 819.6L1326.2 819.6L1328.2 819.6L1330.2 819.7L1332.2 819.7L1334.2 819.8L1336.2 819.8L1338.2 819.9L1340.2 819.9L1342.1 819.9L1344.1 820.0L1346.1 820.1L1348.1 820.1L1350.1 820.2L1352.1 820.2L1354.1 820.3L1356.1 820.3L1358.1 820.4L1360.1 820.4L1362.1 820.5L1364.1 820.5L1366.1 820.6L1368.1 820.6L1370.1 820.7L1372.1 820.7L1374.1 820.8L1376.1 820.8L1378.1 820.9L1380.1 820.9L1382.1 821.0L1384.1 821.0L1386.1 821.1L1388.1 821.2L1390.1 821.2L1392.1 821.3L1394.1 821.4L1396.1 821.4L1398.1 821.5L1400.1 821.5L1402.1 821.6L1404.1 821.7L1406.1 821.7L1408.1 821.8L1410.1 821.9L1412.1 821.9L1414.1 822.0L1416.1 822.1L1418.1 822.1L1420.1 822.2L1422.1 822.3L1424.1 822.3L1426.1 822.4L1428.1 822.5L1430.1 822.5L1432.1 822.6L1434.1 822.7L1436.1 822.7L1438.1 822.8L1440.1 822.9L1442.1 823.0L1444.1 823.0L1446.1 823.1L1448.1 823.2L1450.1 823.3L1452.1 823.4L1454.1 823.4L1456.1 823.5L1458.1 823.6L1460.1 823.7L1462.1 823.8L1464.1 823.8L1466.1 823.9L1468.1 824.0L1470.1 824.0L1472.1 824.1L1474.1 824.1L1476.1 824.2L1478.1 824.2L1480.1 824.3L1482.0 824.3L1484.0 824.3L1486.0 824.3L1488.0 824.3L1490.0 824.4L1492.0 824.4L1494.0 824.4L1496.0 824.4L1498.0 824.4L1500.0 824.4L1502.0 824.4L1504.0 824.4L1506.0 824.5L1508.0 824.5L1510.0 824.5L1512.0 824.5L1514.0 824.5L1516.0 824.5L1518.0 824.5L1520.0 824.5L1522.0 824.5L1524.0 824.5L1526.0 824.6L1528.0 824.6L1530.0 824.6L1532.0 824.6L1534.0 824.6L1536.0 824.6L1538.0 824.6L1540.0 824.6L1542.0 824.6L1544.0 824.6L1546.0 824.6L1548.0 824.6L1550.0 824.6L1553.0 824.6L1556.0 824.6L1559.0 824.6L1562.0 824.5L1565.0 824.4L1568.0 824.3L1571.0 824.2L1574.0 824.1L1577.1 823.9L1580.1 823.7L1583.1 823.5L1586.1 823.3L1589.1 823.1L1592.1 822.8L1595.1 822.6L1598.1 822.3L1601.1 822.0L1604.1 821.7L1607.1 821.3L1610.1 821.0L1613.1 820.6L1616.1 820.2L1619.1 819.8L1622.1 819.4L1625.1 819.0L1628.2 818.5L1631.2 818.1L1634.2 817.6L1637.2 817.1L1640.2 816.6L1643.2 816.1L1646.2 815.6L1649.2 815.0L1652.2 814.5L1655.2 813.9L1658.2 813.3L1661.2 812.7L1664.2 812.1L1667.2 811.5L1670.2 810.9L1673.2 810.3L1676.2 809.6L1679.2 809.0L1682.3 808.3L1685.3 807.6L1688.3 806.9L1691.3 806.2L1694.3 805.5L1697.3 804.7L1700.3 804.0L1703.3 803.2L1706.3 802.4L1709.3 801.6L1712.3 800.8L1715.3 800.0L1718.3 799.1L1721.3 798.3L1724.3 797.4L1727.3 796.5L1730.3 795.6L1733.4 794.7L1736.4 793.7L1739.4 792.8L1742.4 791.8L1745.4 790.8L1748.4 789.8L1751.4 788.7L1754.4 787.7L1757.4 786.6L1760.4 785.5L1763.4 784.4L1766.4 783.2L1769.4 782.1L1772.4 780.9L1775.4 779.7L1778.4 778.5L1781.4 777.2L1784.5 776.0L1787.5 774.7L1790.5 773.3L1793.5 771.9L1796.5 770.5L1799.5 769.1L1802.5 767.6L1805.5 766.1L1808.5 764.5L1811.5 762.9L1814.5 761.2L1817.5 759.5L1820.5 757.7L1823.5 755.9L1826.5 754.0L1829.5 752.1L1832.5 750.1L1835.5 748.0L1838.6 745.9L1841.6 743.7L1844.6 741.5L1847.6 739.1L1850.6 736.7L1853.6 734.3L1856.6 731.7L1859.6 729.1L1862.6 726.4L1865.6 723.6L1868.6 720.8L1871.6 717.8L1874.6 714.8L1877.6 711.8L1880.6 708.6L1883.6 705.4L1886.6 702.1L1889.7 698.8L1892.7 695.4L1895.7 691.9L1898.7 688.4L1901.7 684.8L1904.7 681.2L1907.7 677.5L1910.7 673.8L1913.7 670.0L1916.7 666.2L1919.7 662.3L1922.7 658.4L1925.7 654.5L1928.7 650.5L1931.7 646.5L1934.7 642.4L1937.7 638.3L1940.8 634.2L1943.8 630.0L1946.8 625.8L1949.8 621.6L1952.8 617.4L1955.8 613.1L1958.8 608.8L1961.8 604.5L1964.8 600.1L1967.8 595.7L1970.8 591.3L1973.8 586.8L1976.8 582.3L1979.8 577.8L1982.8 573.2L1985.8 568.6L1988.8 564.0L1991.9 559.3L1994.9 554.6L1997.9 549.9L2000.9 545.1L2003.9 540.3L2006.9 535.5L2009.9 530.6L2012.9 525.7L2015.9 520.8L2018.9 515.8L2021.9 510.9L2024.9 505.9L2027.9 500.9L2030.9 495.9L2033.9 491.0L2036.9 486.0L2039.9 481.0L2042.9 476.1L2046.0 471.2L2049.0 466.3L2052.0 461.4L2055.0 456.5L2058.0 451.7L2061.0 447.0L2064.0 442.2L2067.0 437.6L2070.0 432.9L2073.0 428.4L2076.0 423.9L2079.0 419.4L2082.0 415.1L2085.0 410.8L2088.0 406.6L2091.0 402.5L2094.0 398.5L2097.1 394.6L2100.1 390.9L2103.1 387.5L2106.1 384.2L2109.1 381.1L2112.1 378.4L2115.1 375.9L2118.1 373.7L2121.1 371.8L2124.1 370.3L2127.1 368.9L2130.1 367.9L2133.1 367.0L2136.1 366.4L2139.1 365.9L2142.1 365.7L2145.1 365.6L2148.2 365.6L2151.2 365.7L2154.2 366.1L2157.2 366.6L2160.2 367.4L2163.2 368.5L2166.2 369.8L2169.2 371.5L2172.2 373.5L2175.2 375.9L2178.2 378.7L2181.2 382.0L2184.2 385.7L2187.2 389.8L2190.2 394.3L2193.2 399.3L2196.2 404.7L2199.2 410.6L2202.3 416.9L2205.3 423.6L2208.3 430.8L2211.3 438.5L2214.3 446.6L2217.3 455.1L2220.3 464.1L2223.3 473.4L2226.3 483.2L2229.3 493.4L2232.3 503.9L2235.3 514.9L2238.3 526.2L2241.3 537.9L2244.3 549.8L2247.3 562.1L2250.3 574.6L2253.4 587.3L2256.4 600.2L2259.4 613.2L2262.4 626.3L2265.4 639.6L2268.4 652.8L2271.4 666.1L2274.4 679.4L2277.4 692.6L2279.4 704.8L2281.3 713.5L2283.3 720.7L2285.3 727.0L2287.3 733.0L2289.2 739.1L2291.2 745.0L2293.2 750.8L2295.1 756.4L2297.1 761.7L2299.1 766.8L2301.1 771.8L2303.0 776.5L2305.0 781.1L2307.0 785.4L2309.0 789.4L2310.9 793.3L2312.9 797.0L2314.9 800.4L2316.8 803.4L2318.8 806.3L2320.8 808.9L2322.8 811.4L2324.7 813.6L2326.7 815.5" stroke="#008000" stroke-width="10.4"/>
</g>
<line x1="2107" y1="341.3" x2="2107" y2="1642.5" stroke="#000" stroke-width="8.3" stroke-dasharray="23 16.97"/>
<text transform="translate(283.2 1898.5) scale(0.993 1.03)" font-size="75" text-anchor="middle">100</text>
<text transform="translate(523.55 1898.5) scale(0.993 1.03)" font-size="75" text-anchor="middle">200</text>
<text transform="translate(763.9 1898.5) scale(0.993 1.03)" font-size="75" text-anchor="middle">300</text>
<text transform="translate(1004.25 1898.5) scale(0.993 1.03)" font-size="75" text-anchor="middle">400</text>
<text transform="translate(1244.6 1898.5) scale(0.993 1.03)" font-size="75" text-anchor="middle">500</text>
<text transform="translate(1484.95 1898.5) scale(0.993 1.03)" font-size="75" text-anchor="middle">600</text>
<text transform="translate(1725.3 1898.5) scale(0.993 1.03)" font-size="75" text-anchor="middle">700</text>
<text transform="translate(1965.65 1898.5) scale(0.993 1.03)" font-size="75" text-anchor="middle">800</text>
<text transform="translate(2206.0 1898.5) scale(0.993 1.03)" font-size="75" text-anchor="middle">900</text>
<line class="lg" x1="232.5" y1="765.9" x2="399.9" y2="765.9" stroke="#008000" stroke-width="10.7"/>
<text transform="translate(418.5 790.2)" font-size="75" text-anchor="start">(e)</text>
<line class="lg" x1="228.6" y1="975.7" x2="395.5" y2="975.7" stroke="#ff00ff" stroke-width="10.7"/>
<text transform="translate(414.2 1000.2)" font-size="75" text-anchor="start">(d)</text>
<line class="lg" x1="223.3" y1="1168.7" x2="390.3" y2="1168.7" stroke="#0000ff" stroke-width="10.7"/>
<text transform="translate(408.8 1193.5)" font-size="75" text-anchor="start">(c)</text>
<line class="lg" x1="230.3" y1="1363.3" x2="397" y2="1363.3" stroke="#ff0000" stroke-width="10.7"/>
<text transform="translate(415.6 1387.7)" font-size="75" text-anchor="start">(b)</text>
<line class="lg" x1="233.6" y1="1530.2" x2="381.6" y2="1530.2" stroke="#000000" stroke-width="10.6"/>
<text transform="translate(398.6 1552)" font-size="65.7" text-anchor="start">(a)</text>
<text transform="translate(435.8 185.5) scale(0.975 1.0)" font-size="67" text-anchor="middle">(B)</text>
<text transform="translate(1957.9 286.5) scale(1.0 0.94)" font-size="58.3" text-anchor="middle">Shifting</text>
<text transform="translate(1245.6 2041.2) scale(1.006 1.025)" font-size="75" text-anchor="middle">Temperature (°C)</text>
<text transform="translate(77.7 909.6) rotate(-90) scale(0.997 1.025)" font-size="75" text-anchor="middle">TCD Signal (a.u.)</text>
<path d="M1855.5 329.6H2064V338.2H1855.5Z" fill="#000"/><path d="M2092.6 333.8L2050.8 313L2062.6 333.8L2050.8 354.6Z" fill="#000"/>
</svg>
</body></html>
